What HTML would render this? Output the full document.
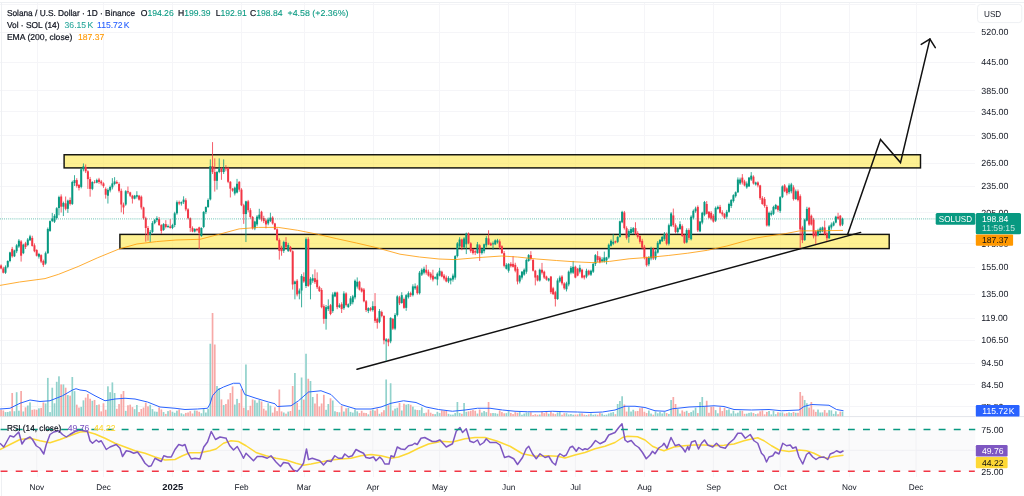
<!DOCTYPE html>
<html lang="en"><head><meta charset="utf-8"><title>SOLUSD chart</title>
<style>
html,body{margin:0;padding:0;background:#fff;width:1024px;height:496px;overflow:hidden}
svg{display:block;will-change:transform}
text{text-rendering:geometricPrecision}
</style></head><body>
<svg width="1024" height="496" viewBox="0 0 1024 496">
<rect width="1024" height="496" fill="#fff"/>
<g stroke="#f5f5f8" stroke-width="1" shape-rendering="crispEdges">
<line x1="37.5" y1="3" x2="37.5" y2="476.5"/>
<line x1="103.5" y1="3" x2="103.5" y2="476.5"/>
<line x1="172.5" y1="3" x2="172.5" y2="476.5"/>
<line x1="241.5" y1="3" x2="241.5" y2="476.5"/>
<line x1="304.5" y1="3" x2="304.5" y2="476.5"/>
<line x1="373.5" y1="3" x2="373.5" y2="476.5"/>
<line x1="439.5" y1="3" x2="439.5" y2="476.5"/>
<line x1="508.5" y1="3" x2="508.5" y2="476.5"/>
<line x1="575.5" y1="3" x2="575.5" y2="476.5"/>
<line x1="644.5" y1="3" x2="644.5" y2="476.5"/>
<line x1="713.5" y1="3" x2="713.5" y2="476.5"/>
<line x1="780.5" y1="3" x2="780.5" y2="476.5"/>
<line x1="849.5" y1="3" x2="849.5" y2="476.5"/>
<line x1="916.5" y1="3" x2="916.5" y2="476.5"/>
<line x1="0" y1="32.5" x2="974.8" y2="32.5"/>
<line x1="0" y1="62.5" x2="974.8" y2="62.5"/>
<line x1="0" y1="90.5" x2="974.8" y2="90.5"/>
<line x1="0" y1="111.5" x2="974.8" y2="111.5"/>
<line x1="0" y1="135.5" x2="974.8" y2="135.5"/>
<line x1="0" y1="163.5" x2="974.8" y2="163.5"/>
<line x1="0" y1="186.5" x2="974.8" y2="186.5"/>
<line x1="0" y1="212.5" x2="974.8" y2="212.5"/>
<line x1="0" y1="243.5" x2="974.8" y2="243.5"/>
<line x1="0" y1="267.5" x2="974.8" y2="267.5"/>
<line x1="0" y1="294.5" x2="974.8" y2="294.5"/>
<line x1="0" y1="318.5" x2="974.8" y2="318.5"/>
<line x1="0" y1="340.5" x2="974.8" y2="340.5"/>
<line x1="0" y1="363.5" x2="974.8" y2="363.5"/>
<line x1="0" y1="384.5" x2="974.8" y2="384.5"/>
<line x1="0" y1="406.5" x2="974.8" y2="406.5"/>
<line x1="0" y1="4.5" x2="975.5" y2="4.5"/>
<line x1="0" y1="450.3" x2="975.5" y2="450.3"/>
</g>
<g stroke="#eef0f3" stroke-width="1" shape-rendering="crispEdges">
<line x1="0" y1="2.5" x2="1024" y2="2.5"/>
<line x1="1.5" y1="3" x2="1.5" y2="496"/>
</g>
<line x1="0" y1="416.6" x2="1024" y2="416.6" stroke="#e3e5ea" stroke-width="1"/>
<rect x="0" y="429.5" width="975.5" height="41.5" fill="#fafafb"/>
<line x1="0" y1="450.3" x2="975.5" y2="450.3" stroke="#f1f1f4" stroke-width="1"/>
<line x1="36.71" y1="430" x2="36.71" y2="471" stroke="#f1f1f4" stroke-width="1"/>
<line x1="103.49" y1="430" x2="103.49" y2="471" stroke="#f1f1f4" stroke-width="1"/>
<line x1="172.5" y1="430" x2="172.5" y2="471" stroke="#f1f1f4" stroke-width="1"/>
<line x1="241.5" y1="430" x2="241.5" y2="471" stroke="#f1f1f4" stroke-width="1"/>
<line x1="303.83" y1="430" x2="303.83" y2="471" stroke="#f1f1f4" stroke-width="1"/>
<line x1="372.84" y1="430" x2="372.84" y2="471" stroke="#f1f1f4" stroke-width="1"/>
<line x1="439.62" y1="430" x2="439.62" y2="471" stroke="#f1f1f4" stroke-width="1"/>
<line x1="508.62" y1="430" x2="508.62" y2="471" stroke="#f1f1f4" stroke-width="1"/>
<line x1="575.4" y1="430" x2="575.4" y2="471" stroke="#f1f1f4" stroke-width="1"/>
<line x1="644.41" y1="430" x2="644.41" y2="471" stroke="#f1f1f4" stroke-width="1"/>
<line x1="713.41" y1="430" x2="713.41" y2="471" stroke="#f1f1f4" stroke-width="1"/>
<line x1="780.19" y1="430" x2="780.19" y2="471" stroke="#f1f1f4" stroke-width="1"/>
<line x1="849.2" y1="430" x2="849.2" y2="471" stroke="#f1f1f4" stroke-width="1"/>
<line x1="915.98" y1="430" x2="915.98" y2="471" stroke="#f1f1f4" stroke-width="1"/>
<rect x="64.1" y="154.75" width="856.4" height="13.15" fill="rgba(253,230,57,0.55)" stroke="#141410" stroke-width="1.45"/>
<rect x="119.9" y="234.4" width="769.3" height="14.2" fill="rgba(253,230,57,0.55)" stroke="#141410" stroke-width="1.45"/>
<line x1="357" y1="369.3" x2="860.6" y2="232.4" stroke="#111" stroke-width="1.5" stroke-linecap="round"/>
<polyline fill="none" stroke="#111" stroke-width="1.5" stroke-linejoin="miter" stroke-linecap="round" points="847.6,234.6 880.5,139.5 900.5,162.6 929.9,39.1"/>
<polyline fill="none" stroke="#111" stroke-width="1.5" stroke-linejoin="miter" stroke-linecap="round" points="921.2,44.4 929.9,39.1 935.3,47.6"/>
<g shape-rendering="auto">
<rect x="0.22" y="409.86" width="1.7" height="6.34" fill="#f7a9a7"/>
<rect x="2.45" y="410.43" width="1.7" height="5.77" fill="#f7a9a7"/>
<rect x="4.67" y="412.1" width="1.7" height="4.1" fill="#92d2cc"/>
<rect x="6.9" y="412" width="1.7" height="4.2" fill="#92d2cc"/>
<rect x="9.13" y="411.3" width="1.7" height="4.9" fill="#92d2cc"/>
<rect x="11.35" y="393" width="1.7" height="23.2" fill="#f7a9a7"/>
<rect x="13.58" y="411.25" width="1.7" height="4.95" fill="#92d2cc"/>
<rect x="15.8" y="392.2" width="1.7" height="24" fill="#92d2cc"/>
<rect x="18.03" y="410.7" width="1.7" height="5.5" fill="#92d2cc"/>
<rect x="20.26" y="391" width="1.7" height="25.2" fill="#f7a9a7"/>
<rect x="22.48" y="411.46" width="1.7" height="4.74" fill="#92d2cc"/>
<rect x="24.71" y="407.31" width="1.7" height="8.89" fill="#f7a9a7"/>
<rect x="26.93" y="405.51" width="1.7" height="10.69" fill="#92d2cc"/>
<rect x="29.16" y="402.37" width="1.7" height="13.83" fill="#92d2cc"/>
<rect x="31.39" y="409.84" width="1.7" height="6.36" fill="#f7a9a7"/>
<rect x="33.61" y="409.37" width="1.7" height="6.83" fill="#f7a9a7"/>
<rect x="35.84" y="409.76" width="1.7" height="6.44" fill="#f7a9a7"/>
<rect x="38.06" y="408.33" width="1.7" height="7.87" fill="#92d2cc"/>
<rect x="40.29" y="407.89" width="1.7" height="8.31" fill="#f7a9a7"/>
<rect x="42.52" y="402.48" width="1.7" height="13.72" fill="#f7a9a7"/>
<rect x="44.74" y="403.44" width="1.7" height="12.76" fill="#92d2cc"/>
<rect x="46.97" y="377.9" width="1.7" height="38.3" fill="#92d2cc"/>
<rect x="49.19" y="412.1" width="1.7" height="4.1" fill="#92d2cc"/>
<rect x="51.42" y="387.7" width="1.7" height="28.5" fill="#92d2cc"/>
<rect x="53.65" y="403.32" width="1.7" height="12.88" fill="#92d2cc"/>
<rect x="55.87" y="381.8" width="1.7" height="34.4" fill="#92d2cc"/>
<rect x="58.1" y="376.3" width="1.7" height="39.9" fill="#92d2cc"/>
<rect x="60.32" y="384.4" width="1.7" height="31.8" fill="#f7a9a7"/>
<rect x="62.55" y="384.4" width="1.7" height="31.8" fill="#92d2cc"/>
<rect x="64.78" y="387.7" width="1.7" height="28.5" fill="#f7a9a7"/>
<rect x="67" y="395.05" width="1.7" height="21.15" fill="#92d2cc"/>
<rect x="69.23" y="395.66" width="1.7" height="20.54" fill="#f7a9a7"/>
<rect x="71.45" y="377" width="1.7" height="39.2" fill="#92d2cc"/>
<rect x="73.68" y="391.12" width="1.7" height="25.08" fill="#92d2cc"/>
<rect x="75.91" y="404.65" width="1.7" height="11.55" fill="#f7a9a7"/>
<rect x="78.13" y="407.54" width="1.7" height="8.66" fill="#f7a9a7"/>
<rect x="80.36" y="406.87" width="1.7" height="9.33" fill="#92d2cc"/>
<rect x="82.58" y="400.33" width="1.7" height="15.87" fill="#92d2cc"/>
<rect x="84.81" y="397.66" width="1.7" height="18.54" fill="#f7a9a7"/>
<rect x="87.04" y="394.02" width="1.7" height="22.18" fill="#f7a9a7"/>
<rect x="89.26" y="398.71" width="1.7" height="17.49" fill="#f7a9a7"/>
<rect x="91.49" y="400.78" width="1.7" height="15.42" fill="#92d2cc"/>
<rect x="93.71" y="399.95" width="1.7" height="16.25" fill="#f7a9a7"/>
<rect x="95.94" y="405.05" width="1.7" height="11.15" fill="#92d2cc"/>
<rect x="98.17" y="404.47" width="1.7" height="11.73" fill="#f7a9a7"/>
<rect x="100.39" y="411.39" width="1.7" height="4.81" fill="#f7a9a7"/>
<rect x="102.62" y="403.27" width="1.7" height="12.93" fill="#f7a9a7"/>
<rect x="104.84" y="409.77" width="1.7" height="6.43" fill="#f7a9a7"/>
<rect x="107.07" y="386.3" width="1.7" height="29.9" fill="#92d2cc"/>
<rect x="109.3" y="392.2" width="1.7" height="24" fill="#92d2cc"/>
<rect x="111.52" y="382.4" width="1.7" height="33.8" fill="#92d2cc"/>
<rect x="113.75" y="393" width="1.7" height="23.2" fill="#92d2cc"/>
<rect x="115.97" y="408.81" width="1.7" height="7.39" fill="#f7a9a7"/>
<rect x="118.2" y="404.03" width="1.7" height="12.17" fill="#f7a9a7"/>
<rect x="120.43" y="394.2" width="1.7" height="22" fill="#f7a9a7"/>
<rect x="122.65" y="391" width="1.7" height="25.2" fill="#f7a9a7"/>
<rect x="124.88" y="410.84" width="1.7" height="5.36" fill="#92d2cc"/>
<rect x="127.1" y="405.26" width="1.7" height="10.94" fill="#f7a9a7"/>
<rect x="129.33" y="404.64" width="1.7" height="11.56" fill="#f7a9a7"/>
<rect x="131.56" y="407.13" width="1.7" height="9.07" fill="#f7a9a7"/>
<rect x="133.78" y="409.2" width="1.7" height="7" fill="#92d2cc"/>
<rect x="136.01" y="404.96" width="1.7" height="11.24" fill="#92d2cc"/>
<rect x="138.23" y="412.03" width="1.7" height="4.17" fill="#f7a9a7"/>
<rect x="140.46" y="408.97" width="1.7" height="7.23" fill="#f7a9a7"/>
<rect x="142.69" y="407.53" width="1.7" height="8.67" fill="#f7a9a7"/>
<rect x="144.91" y="402.73" width="1.7" height="13.47" fill="#f7a9a7"/>
<rect x="147.14" y="406.38" width="1.7" height="9.82" fill="#f7a9a7"/>
<rect x="149.36" y="404.81" width="1.7" height="11.39" fill="#92d2cc"/>
<rect x="151.59" y="409.08" width="1.7" height="7.12" fill="#92d2cc"/>
<rect x="153.82" y="411.5" width="1.7" height="4.7" fill="#92d2cc"/>
<rect x="156.04" y="411.78" width="1.7" height="4.42" fill="#92d2cc"/>
<rect x="158.27" y="407.39" width="1.7" height="8.81" fill="#f7a9a7"/>
<rect x="160.49" y="409.45" width="1.7" height="6.75" fill="#f7a9a7"/>
<rect x="162.72" y="412.06" width="1.7" height="4.14" fill="#92d2cc"/>
<rect x="164.95" y="413.89" width="1.7" height="2.31" fill="#f7a9a7"/>
<rect x="167.17" y="411.09" width="1.7" height="5.11" fill="#92d2cc"/>
<rect x="169.4" y="410.17" width="1.7" height="6.03" fill="#f7a9a7"/>
<rect x="171.62" y="411.76" width="1.7" height="4.44" fill="#92d2cc"/>
<rect x="173.85" y="412.77" width="1.7" height="3.43" fill="#92d2cc"/>
<rect x="176.08" y="410.67" width="1.7" height="5.53" fill="#92d2cc"/>
<rect x="178.3" y="409.53" width="1.7" height="6.67" fill="#f7a9a7"/>
<rect x="180.53" y="413.28" width="1.7" height="2.92" fill="#92d2cc"/>
<rect x="182.75" y="414.32" width="1.7" height="1.88" fill="#92d2cc"/>
<rect x="184.98" y="412.92" width="1.7" height="3.28" fill="#f7a9a7"/>
<rect x="187.21" y="412.49" width="1.7" height="3.71" fill="#f7a9a7"/>
<rect x="189.43" y="411.17" width="1.7" height="5.03" fill="#f7a9a7"/>
<rect x="191.66" y="413.48" width="1.7" height="2.72" fill="#f7a9a7"/>
<rect x="193.88" y="410.47" width="1.7" height="5.73" fill="#92d2cc"/>
<rect x="196.11" y="410.69" width="1.7" height="5.51" fill="#f7a9a7"/>
<rect x="198.34" y="411.78" width="1.7" height="4.42" fill="#f7a9a7"/>
<rect x="200.56" y="413.25" width="1.7" height="2.95" fill="#92d2cc"/>
<rect x="202.79" y="409.08" width="1.7" height="7.12" fill="#92d2cc"/>
<rect x="205.01" y="412.54" width="1.7" height="3.66" fill="#92d2cc"/>
<rect x="207.24" y="408.82" width="1.7" height="7.38" fill="#92d2cc"/>
<rect x="209.47" y="343.75" width="1.7" height="72.45" fill="#92d2cc"/>
<rect x="211.69" y="313" width="1.7" height="103.2" fill="#f7a9a7"/>
<rect x="213.92" y="344.5" width="1.7" height="71.7" fill="#f7a9a7"/>
<rect x="216.14" y="386" width="1.7" height="30.2" fill="#92d2cc"/>
<rect x="218.37" y="388" width="1.7" height="28.2" fill="#92d2cc"/>
<rect x="220.6" y="399.38" width="1.7" height="16.82" fill="#f7a9a7"/>
<rect x="222.82" y="405.05" width="1.7" height="11.15" fill="#92d2cc"/>
<rect x="225.05" y="403.96" width="1.7" height="12.24" fill="#f7a9a7"/>
<rect x="227.27" y="399.41" width="1.7" height="16.79" fill="#f7a9a7"/>
<rect x="229.5" y="393" width="1.7" height="23.2" fill="#f7a9a7"/>
<rect x="231.73" y="386.38" width="1.7" height="29.82" fill="#f7a9a7"/>
<rect x="233.95" y="404.59" width="1.7" height="11.61" fill="#92d2cc"/>
<rect x="236.18" y="398.89" width="1.7" height="17.31" fill="#92d2cc"/>
<rect x="238.4" y="403.05" width="1.7" height="13.15" fill="#f7a9a7"/>
<rect x="240.63" y="389.12" width="1.7" height="27.08" fill="#f7a9a7"/>
<rect x="242.86" y="407.8" width="1.7" height="8.4" fill="#f7a9a7"/>
<rect x="245.08" y="364.5" width="1.7" height="51.7" fill="#92d2cc"/>
<rect x="247.31" y="410.19" width="1.7" height="6.01" fill="#f7a9a7"/>
<rect x="249.53" y="405.79" width="1.7" height="10.41" fill="#f7a9a7"/>
<rect x="251.76" y="399.43" width="1.7" height="16.77" fill="#f7a9a7"/>
<rect x="253.99" y="400.27" width="1.7" height="15.93" fill="#92d2cc"/>
<rect x="256.21" y="402.75" width="1.7" height="13.45" fill="#92d2cc"/>
<rect x="258.44" y="400.11" width="1.7" height="16.09" fill="#92d2cc"/>
<rect x="260.66" y="401.5" width="1.7" height="14.7" fill="#f7a9a7"/>
<rect x="262.89" y="408.69" width="1.7" height="7.51" fill="#f7a9a7"/>
<rect x="265.12" y="410.52" width="1.7" height="5.68" fill="#f7a9a7"/>
<rect x="267.34" y="403.26" width="1.7" height="12.94" fill="#92d2cc"/>
<rect x="269.57" y="405.63" width="1.7" height="10.57" fill="#92d2cc"/>
<rect x="271.79" y="412.64" width="1.7" height="3.56" fill="#f7a9a7"/>
<rect x="274.02" y="407.27" width="1.7" height="8.93" fill="#f7a9a7"/>
<rect x="276.25" y="411.11" width="1.7" height="5.09" fill="#f7a9a7"/>
<rect x="278.47" y="389.5" width="1.7" height="26.7" fill="#f7a9a7"/>
<rect x="280.7" y="411.41" width="1.7" height="4.79" fill="#f7a9a7"/>
<rect x="282.92" y="412.49" width="1.7" height="3.71" fill="#92d2cc"/>
<rect x="285.15" y="413.64" width="1.7" height="2.56" fill="#f7a9a7"/>
<rect x="287.38" y="411.61" width="1.7" height="4.59" fill="#92d2cc"/>
<rect x="289.6" y="411.03" width="1.7" height="5.17" fill="#f7a9a7"/>
<rect x="291.83" y="386" width="1.7" height="30.2" fill="#f7a9a7"/>
<rect x="294.05" y="373" width="1.7" height="43.2" fill="#92d2cc"/>
<rect x="296.28" y="402.75" width="1.7" height="13.45" fill="#f7a9a7"/>
<rect x="298.51" y="409.8" width="1.7" height="6.4" fill="#92d2cc"/>
<rect x="300.73" y="377.5" width="1.7" height="38.7" fill="#92d2cc"/>
<rect x="302.96" y="399.62" width="1.7" height="16.58" fill="#f7a9a7"/>
<rect x="305.18" y="353.75" width="1.7" height="62.45" fill="#92d2cc"/>
<rect x="307.41" y="378.75" width="1.7" height="37.45" fill="#f7a9a7"/>
<rect x="309.64" y="381" width="1.7" height="35.2" fill="#92d2cc"/>
<rect x="311.86" y="397" width="1.7" height="19.2" fill="#92d2cc"/>
<rect x="314.09" y="403.51" width="1.7" height="12.69" fill="#f7a9a7"/>
<rect x="316.31" y="393.8" width="1.7" height="22.4" fill="#f7a9a7"/>
<rect x="318.54" y="406.46" width="1.7" height="9.74" fill="#f7a9a7"/>
<rect x="320.77" y="403.47" width="1.7" height="12.73" fill="#f7a9a7"/>
<rect x="322.99" y="394.79" width="1.7" height="21.41" fill="#f7a9a7"/>
<rect x="325.22" y="409.81" width="1.7" height="6.39" fill="#92d2cc"/>
<rect x="327.44" y="403.99" width="1.7" height="12.21" fill="#92d2cc"/>
<rect x="329.67" y="398.3" width="1.7" height="17.9" fill="#f7a9a7"/>
<rect x="331.9" y="400.5" width="1.7" height="15.7" fill="#92d2cc"/>
<rect x="334.12" y="411.26" width="1.7" height="4.94" fill="#92d2cc"/>
<rect x="336.35" y="411.95" width="1.7" height="4.25" fill="#f7a9a7"/>
<rect x="338.57" y="412.3" width="1.7" height="3.9" fill="#92d2cc"/>
<rect x="340.8" y="405.91" width="1.7" height="10.29" fill="#f7a9a7"/>
<rect x="343.03" y="411.54" width="1.7" height="4.66" fill="#92d2cc"/>
<rect x="345.25" y="408.34" width="1.7" height="7.86" fill="#f7a9a7"/>
<rect x="347.48" y="407.85" width="1.7" height="8.35" fill="#92d2cc"/>
<rect x="349.7" y="411.89" width="1.7" height="4.31" fill="#92d2cc"/>
<rect x="351.93" y="412.6" width="1.7" height="3.6" fill="#92d2cc"/>
<rect x="354.16" y="409.3" width="1.7" height="6.9" fill="#92d2cc"/>
<rect x="356.38" y="411.29" width="1.7" height="4.91" fill="#92d2cc"/>
<rect x="358.61" y="413.08" width="1.7" height="3.12" fill="#f7a9a7"/>
<rect x="360.83" y="410.79" width="1.7" height="5.41" fill="#f7a9a7"/>
<rect x="363.06" y="412.8" width="1.7" height="3.4" fill="#f7a9a7"/>
<rect x="365.29" y="413.01" width="1.7" height="3.19" fill="#f7a9a7"/>
<rect x="367.51" y="414.38" width="1.7" height="1.82" fill="#92d2cc"/>
<rect x="369.74" y="410.59" width="1.7" height="5.61" fill="#f7a9a7"/>
<rect x="371.96" y="409.46" width="1.7" height="6.74" fill="#92d2cc"/>
<rect x="374.19" y="410.64" width="1.7" height="5.56" fill="#f7a9a7"/>
<rect x="376.42" y="408.51" width="1.7" height="7.69" fill="#f7a9a7"/>
<rect x="378.64" y="413.82" width="1.7" height="2.38" fill="#92d2cc"/>
<rect x="380.87" y="412.28" width="1.7" height="3.92" fill="#f7a9a7"/>
<rect x="383.09" y="410.2" width="1.7" height="6" fill="#f7a9a7"/>
<rect x="385.32" y="379.5" width="1.7" height="36.7" fill="#92d2cc"/>
<rect x="387.55" y="405.21" width="1.7" height="10.99" fill="#f7a9a7"/>
<rect x="389.77" y="383.25" width="1.7" height="32.95" fill="#92d2cc"/>
<rect x="392" y="410.53" width="1.7" height="5.67" fill="#f7a9a7"/>
<rect x="394.22" y="408.62" width="1.7" height="7.58" fill="#92d2cc"/>
<rect x="396.45" y="407.74" width="1.7" height="8.46" fill="#92d2cc"/>
<rect x="398.68" y="403.02" width="1.7" height="13.18" fill="#f7a9a7"/>
<rect x="400.9" y="410.49" width="1.7" height="5.71" fill="#92d2cc"/>
<rect x="403.13" y="403.71" width="1.7" height="12.49" fill="#f7a9a7"/>
<rect x="405.35" y="404.64" width="1.7" height="11.56" fill="#92d2cc"/>
<rect x="407.58" y="404.01" width="1.7" height="12.19" fill="#92d2cc"/>
<rect x="409.81" y="404.77" width="1.7" height="11.43" fill="#f7a9a7"/>
<rect x="412.03" y="406.66" width="1.7" height="9.54" fill="#92d2cc"/>
<rect x="414.26" y="409.57" width="1.7" height="6.63" fill="#92d2cc"/>
<rect x="416.48" y="409.99" width="1.7" height="6.21" fill="#f7a9a7"/>
<rect x="418.71" y="410.11" width="1.7" height="6.09" fill="#92d2cc"/>
<rect x="420.94" y="407.35" width="1.7" height="8.85" fill="#92d2cc"/>
<rect x="423.16" y="413.12" width="1.7" height="3.08" fill="#92d2cc"/>
<rect x="425.39" y="412.65" width="1.7" height="3.55" fill="#f7a9a7"/>
<rect x="427.61" y="409.43" width="1.7" height="6.77" fill="#f7a9a7"/>
<rect x="429.84" y="412.7" width="1.7" height="3.5" fill="#f7a9a7"/>
<rect x="432.07" y="413.89" width="1.7" height="2.31" fill="#f7a9a7"/>
<rect x="434.29" y="414.18" width="1.7" height="2.02" fill="#92d2cc"/>
<rect x="436.52" y="411.79" width="1.7" height="4.41" fill="#92d2cc"/>
<rect x="438.74" y="413.06" width="1.7" height="3.14" fill="#92d2cc"/>
<rect x="440.97" y="410.32" width="1.7" height="5.88" fill="#f7a9a7"/>
<rect x="443.2" y="410.98" width="1.7" height="5.22" fill="#f7a9a7"/>
<rect x="445.42" y="410.81" width="1.7" height="5.39" fill="#f7a9a7"/>
<rect x="447.65" y="413.83" width="1.7" height="2.37" fill="#92d2cc"/>
<rect x="449.87" y="414.6" width="1.7" height="1.6" fill="#92d2cc"/>
<rect x="452.1" y="414.61" width="1.7" height="1.59" fill="#92d2cc"/>
<rect x="454.33" y="413.08" width="1.7" height="3.12" fill="#92d2cc"/>
<rect x="456.55" y="402" width="1.7" height="14.2" fill="#92d2cc"/>
<rect x="458.78" y="413.01" width="1.7" height="3.19" fill="#92d2cc"/>
<rect x="461" y="413.76" width="1.7" height="2.44" fill="#f7a9a7"/>
<rect x="463.23" y="403" width="1.7" height="13.2" fill="#92d2cc"/>
<rect x="465.46" y="411.83" width="1.7" height="4.37" fill="#92d2cc"/>
<rect x="467.68" y="411.37" width="1.7" height="4.83" fill="#f7a9a7"/>
<rect x="469.91" y="410.78" width="1.7" height="5.42" fill="#f7a9a7"/>
<rect x="472.13" y="410.03" width="1.7" height="6.17" fill="#f7a9a7"/>
<rect x="474.36" y="410.74" width="1.7" height="5.46" fill="#f7a9a7"/>
<rect x="476.59" y="413.54" width="1.7" height="2.66" fill="#92d2cc"/>
<rect x="478.81" y="409.53" width="1.7" height="6.67" fill="#f7a9a7"/>
<rect x="481.04" y="412.58" width="1.7" height="3.62" fill="#92d2cc"/>
<rect x="483.26" y="411.06" width="1.7" height="5.14" fill="#92d2cc"/>
<rect x="485.49" y="412.14" width="1.7" height="4.06" fill="#92d2cc"/>
<rect x="487.72" y="402" width="1.7" height="14.2" fill="#f7a9a7"/>
<rect x="489.94" y="413.15" width="1.7" height="3.05" fill="#f7a9a7"/>
<rect x="492.17" y="413.01" width="1.7" height="3.19" fill="#92d2cc"/>
<rect x="494.39" y="413.16" width="1.7" height="3.04" fill="#92d2cc"/>
<rect x="496.62" y="413.73" width="1.7" height="2.47" fill="#92d2cc"/>
<rect x="498.85" y="410.47" width="1.7" height="5.73" fill="#f7a9a7"/>
<rect x="501.07" y="412.09" width="1.7" height="4.11" fill="#f7a9a7"/>
<rect x="503.3" y="413.31" width="1.7" height="2.89" fill="#f7a9a7"/>
<rect x="505.52" y="413.14" width="1.7" height="3.06" fill="#92d2cc"/>
<rect x="507.75" y="410.92" width="1.7" height="5.28" fill="#92d2cc"/>
<rect x="509.98" y="412.95" width="1.7" height="3.25" fill="#f7a9a7"/>
<rect x="512.2" y="414.08" width="1.7" height="2.12" fill="#f7a9a7"/>
<rect x="514.43" y="412.17" width="1.7" height="4.03" fill="#f7a9a7"/>
<rect x="516.65" y="412.77" width="1.7" height="3.43" fill="#f7a9a7"/>
<rect x="518.88" y="411.71" width="1.7" height="4.49" fill="#92d2cc"/>
<rect x="521.11" y="414.7" width="1.7" height="1.5" fill="#92d2cc"/>
<rect x="523.33" y="413.53" width="1.7" height="2.67" fill="#92d2cc"/>
<rect x="525.56" y="412.5" width="1.7" height="3.7" fill="#92d2cc"/>
<rect x="527.78" y="412.47" width="1.7" height="3.73" fill="#92d2cc"/>
<rect x="530.01" y="412.24" width="1.7" height="3.96" fill="#f7a9a7"/>
<rect x="532.24" y="414.96" width="1.7" height="1.24" fill="#f7a9a7"/>
<rect x="534.46" y="414.17" width="1.7" height="2.03" fill="#f7a9a7"/>
<rect x="536.69" y="414.72" width="1.7" height="1.48" fill="#f7a9a7"/>
<rect x="538.91" y="414.5" width="1.7" height="1.7" fill="#92d2cc"/>
<rect x="541.14" y="411.98" width="1.7" height="4.22" fill="#f7a9a7"/>
<rect x="543.37" y="413.16" width="1.7" height="3.04" fill="#f7a9a7"/>
<rect x="545.59" y="411.96" width="1.7" height="4.24" fill="#f7a9a7"/>
<rect x="547.82" y="413.75" width="1.7" height="2.45" fill="#92d2cc"/>
<rect x="550.04" y="412.02" width="1.7" height="4.18" fill="#f7a9a7"/>
<rect x="552.27" y="413.42" width="1.7" height="2.78" fill="#f7a9a7"/>
<rect x="554.5" y="414.11" width="1.7" height="2.09" fill="#f7a9a7"/>
<rect x="556.72" y="412.43" width="1.7" height="3.77" fill="#92d2cc"/>
<rect x="558.95" y="411.95" width="1.7" height="4.25" fill="#92d2cc"/>
<rect x="561.17" y="414.72" width="1.7" height="1.48" fill="#f7a9a7"/>
<rect x="563.4" y="413.21" width="1.7" height="2.99" fill="#f7a9a7"/>
<rect x="565.63" y="413.18" width="1.7" height="3.02" fill="#92d2cc"/>
<rect x="567.85" y="414.44" width="1.7" height="1.76" fill="#92d2cc"/>
<rect x="570.08" y="414" width="1.7" height="2.2" fill="#92d2cc"/>
<rect x="572.3" y="414.7" width="1.7" height="1.5" fill="#92d2cc"/>
<rect x="574.53" y="414.53" width="1.7" height="1.67" fill="#f7a9a7"/>
<rect x="576.76" y="414.4" width="1.7" height="1.8" fill="#f7a9a7"/>
<rect x="578.98" y="413.45" width="1.7" height="2.75" fill="#92d2cc"/>
<rect x="581.21" y="413.36" width="1.7" height="2.84" fill="#f7a9a7"/>
<rect x="583.43" y="414.66" width="1.7" height="1.54" fill="#f7a9a7"/>
<rect x="585.66" y="415" width="1.7" height="1.2" fill="#92d2cc"/>
<rect x="587.89" y="414.4" width="1.7" height="1.8" fill="#f7a9a7"/>
<rect x="590.11" y="413.49" width="1.7" height="2.71" fill="#92d2cc"/>
<rect x="592.34" y="414.75" width="1.7" height="1.45" fill="#92d2cc"/>
<rect x="594.56" y="414.36" width="1.7" height="1.84" fill="#92d2cc"/>
<rect x="596.79" y="414.63" width="1.7" height="1.57" fill="#f7a9a7"/>
<rect x="599.02" y="412.9" width="1.7" height="3.3" fill="#f7a9a7"/>
<rect x="601.24" y="413.55" width="1.7" height="2.65" fill="#92d2cc"/>
<rect x="603.47" y="414.88" width="1.7" height="1.32" fill="#92d2cc"/>
<rect x="605.69" y="414.64" width="1.7" height="1.56" fill="#92d2cc"/>
<rect x="607.92" y="413.46" width="1.7" height="2.74" fill="#92d2cc"/>
<rect x="610.15" y="412.67" width="1.7" height="3.53" fill="#92d2cc"/>
<rect x="612.37" y="412.07" width="1.7" height="4.13" fill="#92d2cc"/>
<rect x="614.6" y="414.2" width="1.7" height="2" fill="#f7a9a7"/>
<rect x="616.82" y="404" width="1.7" height="12.2" fill="#92d2cc"/>
<rect x="619.05" y="401" width="1.7" height="15.2" fill="#92d2cc"/>
<rect x="621.28" y="396.25" width="1.7" height="19.95" fill="#92d2cc"/>
<rect x="623.5" y="404.5" width="1.7" height="11.7" fill="#f7a9a7"/>
<rect x="625.73" y="411.57" width="1.7" height="4.63" fill="#f7a9a7"/>
<rect x="627.95" y="407.07" width="1.7" height="9.13" fill="#92d2cc"/>
<rect x="630.18" y="411.54" width="1.7" height="4.66" fill="#92d2cc"/>
<rect x="632.41" y="409.77" width="1.7" height="6.43" fill="#92d2cc"/>
<rect x="634.63" y="411.25" width="1.7" height="4.95" fill="#f7a9a7"/>
<rect x="636.86" y="411" width="1.7" height="5.2" fill="#f7a9a7"/>
<rect x="639.08" y="408.22" width="1.7" height="7.98" fill="#f7a9a7"/>
<rect x="641.31" y="407.62" width="1.7" height="8.58" fill="#f7a9a7"/>
<rect x="643.54" y="411.77" width="1.7" height="4.43" fill="#f7a9a7"/>
<rect x="645.76" y="413.03" width="1.7" height="3.17" fill="#f7a9a7"/>
<rect x="647.99" y="410.54" width="1.7" height="5.66" fill="#92d2cc"/>
<rect x="650.21" y="413.56" width="1.7" height="2.64" fill="#92d2cc"/>
<rect x="652.44" y="414.67" width="1.7" height="1.53" fill="#f7a9a7"/>
<rect x="654.67" y="411.42" width="1.7" height="4.78" fill="#92d2cc"/>
<rect x="656.89" y="413.3" width="1.7" height="2.9" fill="#92d2cc"/>
<rect x="659.12" y="411.91" width="1.7" height="4.29" fill="#92d2cc"/>
<rect x="661.34" y="413.48" width="1.7" height="2.72" fill="#92d2cc"/>
<rect x="663.57" y="411.88" width="1.7" height="4.32" fill="#92d2cc"/>
<rect x="665.8" y="413.05" width="1.7" height="3.15" fill="#f7a9a7"/>
<rect x="668.02" y="413.93" width="1.7" height="2.27" fill="#92d2cc"/>
<rect x="670.25" y="400" width="1.7" height="16.2" fill="#92d2cc"/>
<rect x="672.47" y="397" width="1.7" height="19.2" fill="#f7a9a7"/>
<rect x="674.7" y="404" width="1.7" height="12.2" fill="#f7a9a7"/>
<rect x="676.93" y="409.13" width="1.7" height="7.07" fill="#92d2cc"/>
<rect x="679.15" y="413.64" width="1.7" height="2.56" fill="#92d2cc"/>
<rect x="681.38" y="410.41" width="1.7" height="5.79" fill="#f7a9a7"/>
<rect x="683.6" y="411.77" width="1.7" height="4.43" fill="#f7a9a7"/>
<rect x="685.83" y="410.81" width="1.7" height="5.39" fill="#92d2cc"/>
<rect x="688.06" y="412.96" width="1.7" height="3.24" fill="#f7a9a7"/>
<rect x="690.28" y="412.04" width="1.7" height="4.16" fill="#92d2cc"/>
<rect x="692.51" y="410.44" width="1.7" height="5.76" fill="#92d2cc"/>
<rect x="694.73" y="407.7" width="1.7" height="8.5" fill="#92d2cc"/>
<rect x="696.96" y="413.08" width="1.7" height="3.12" fill="#f7a9a7"/>
<rect x="699.19" y="402" width="1.7" height="14.2" fill="#92d2cc"/>
<rect x="701.41" y="397" width="1.7" height="19.2" fill="#92d2cc"/>
<rect x="703.64" y="407.04" width="1.7" height="9.16" fill="#92d2cc"/>
<rect x="705.86" y="400.75" width="1.7" height="15.45" fill="#f7a9a7"/>
<rect x="708.09" y="412.76" width="1.7" height="3.44" fill="#f7a9a7"/>
<rect x="710.32" y="406.84" width="1.7" height="9.36" fill="#f7a9a7"/>
<rect x="712.54" y="406.49" width="1.7" height="9.71" fill="#f7a9a7"/>
<rect x="714.77" y="410.13" width="1.7" height="6.07" fill="#92d2cc"/>
<rect x="716.99" y="413.28" width="1.7" height="2.92" fill="#92d2cc"/>
<rect x="719.22" y="407.22" width="1.7" height="8.98" fill="#f7a9a7"/>
<rect x="721.45" y="411.07" width="1.7" height="5.13" fill="#f7a9a7"/>
<rect x="723.67" y="407.77" width="1.7" height="8.43" fill="#f7a9a7"/>
<rect x="725.9" y="410.13" width="1.7" height="6.07" fill="#92d2cc"/>
<rect x="728.12" y="409.41" width="1.7" height="6.79" fill="#92d2cc"/>
<rect x="730.35" y="413.47" width="1.7" height="2.73" fill="#92d2cc"/>
<rect x="732.58" y="410.7" width="1.7" height="5.5" fill="#92d2cc"/>
<rect x="734.8" y="413.5" width="1.7" height="2.7" fill="#92d2cc"/>
<rect x="737.03" y="412.69" width="1.7" height="3.51" fill="#92d2cc"/>
<rect x="739.25" y="410.7" width="1.7" height="5.5" fill="#92d2cc"/>
<rect x="741.48" y="410.83" width="1.7" height="5.37" fill="#f7a9a7"/>
<rect x="743.71" y="413.78" width="1.7" height="2.42" fill="#f7a9a7"/>
<rect x="745.93" y="413.65" width="1.7" height="2.55" fill="#92d2cc"/>
<rect x="748.16" y="412.88" width="1.7" height="3.32" fill="#92d2cc"/>
<rect x="750.38" y="412.4" width="1.7" height="3.8" fill="#92d2cc"/>
<rect x="752.61" y="412.96" width="1.7" height="3.24" fill="#f7a9a7"/>
<rect x="754.84" y="414.08" width="1.7" height="2.12" fill="#92d2cc"/>
<rect x="757.06" y="413.5" width="1.7" height="2.7" fill="#f7a9a7"/>
<rect x="759.29" y="411.32" width="1.7" height="4.88" fill="#f7a9a7"/>
<rect x="761.51" y="410.48" width="1.7" height="5.72" fill="#f7a9a7"/>
<rect x="763.74" y="414.37" width="1.7" height="1.83" fill="#f7a9a7"/>
<rect x="765.97" y="411.93" width="1.7" height="4.27" fill="#f7a9a7"/>
<rect x="768.19" y="410.98" width="1.7" height="5.22" fill="#92d2cc"/>
<rect x="770.42" y="414.41" width="1.7" height="1.79" fill="#92d2cc"/>
<rect x="772.64" y="410.97" width="1.7" height="5.23" fill="#92d2cc"/>
<rect x="774.87" y="414.2" width="1.7" height="2" fill="#92d2cc"/>
<rect x="777.1" y="412.31" width="1.7" height="3.89" fill="#f7a9a7"/>
<rect x="779.32" y="412.65" width="1.7" height="3.55" fill="#92d2cc"/>
<rect x="781.55" y="412.42" width="1.7" height="3.78" fill="#92d2cc"/>
<rect x="783.77" y="413.61" width="1.7" height="2.59" fill="#f7a9a7"/>
<rect x="786" y="413.11" width="1.7" height="3.09" fill="#f7a9a7"/>
<rect x="788.23" y="412.4" width="1.7" height="3.8" fill="#92d2cc"/>
<rect x="790.45" y="412.98" width="1.7" height="3.22" fill="#92d2cc"/>
<rect x="792.68" y="411.96" width="1.7" height="4.24" fill="#f7a9a7"/>
<rect x="794.9" y="412.79" width="1.7" height="3.41" fill="#92d2cc"/>
<rect x="797.13" y="412.77" width="1.7" height="3.43" fill="#f7a9a7"/>
<rect x="799.36" y="392" width="1.7" height="24.2" fill="#f7a9a7"/>
<rect x="801.58" y="395.75" width="1.7" height="20.45" fill="#f7a9a7"/>
<rect x="803.81" y="400" width="1.7" height="16.2" fill="#92d2cc"/>
<rect x="806.03" y="403.25" width="1.7" height="12.95" fill="#92d2cc"/>
<rect x="808.26" y="407.52" width="1.7" height="8.68" fill="#f7a9a7"/>
<rect x="810.49" y="402" width="1.7" height="14.2" fill="#f7a9a7"/>
<rect x="812.71" y="409.57" width="1.7" height="6.63" fill="#f7a9a7"/>
<rect x="814.94" y="411.87" width="1.7" height="4.33" fill="#f7a9a7"/>
<rect x="817.16" y="409.56" width="1.7" height="6.64" fill="#92d2cc"/>
<rect x="819.39" y="412.52" width="1.7" height="3.68" fill="#92d2cc"/>
<rect x="821.62" y="412.38" width="1.7" height="3.82" fill="#92d2cc"/>
<rect x="823.84" y="410.06" width="1.7" height="6.14" fill="#f7a9a7"/>
<rect x="826.07" y="412.73" width="1.7" height="3.47" fill="#f7a9a7"/>
<rect x="828.29" y="410.12" width="1.7" height="6.08" fill="#92d2cc"/>
<rect x="830.52" y="410.37" width="1.7" height="5.83" fill="#92d2cc"/>
<rect x="832.75" y="413.88" width="1.7" height="2.32" fill="#92d2cc"/>
<rect x="834.97" y="411.27" width="1.7" height="4.93" fill="#92d2cc"/>
<rect x="837.2" y="414.22" width="1.7" height="1.98" fill="#f7a9a7"/>
<rect x="839.42" y="411.6" width="1.7" height="4.6" fill="#f7a9a7"/>
<rect x="841.65" y="411.73" width="1.7" height="4.47" fill="#92d2cc"/>
</g>
<polyline fill="none" stroke="#2962ff" stroke-width="1.0" stroke-linejoin="round" points="0,409 10,408.25 20,403.25 30,400 40,401.5 50,400.75 62.5,395.75 72.5,390 76,388.7 80,390 86,390.75 95,395.75 105,400.75 115,399 125,398.25 135,399 147.5,402 160,407 175,408.25 185,409.5 197.5,409 207.5,408.25 210,404 212.5,395.75 217.5,390 223.5,387 230,384.5 233.5,383.25 239.75,383.25 244.75,394.5 256,398.25 268.5,402 275,403.75 277.25,406.5 291,405.75 298.5,400.75 308.5,392 321,390.75 331,394.5 341,404.5 356,409 371,409 381,407 391,403.25 403.5,400.75 416,402.5 426,407 438.5,409.5 452.5,411.25 465,410 477.5,408.25 490,408.25 502.5,410 515,411.25 527.5,411.75 540,411.75 552.5,411.25 565,411.75 577.5,412 590,412.5 602.5,412 615,410 625,406.25 635,406.25 645,407.5 655,410.75 665,411.25 672.5,408.75 680,408 689,407 701.5,406.5 714,405.75 724,406.5 734,409.5 751.5,410 769,409.5 781.5,410.75 799,410 804,406.5 811.5,404.5 829,405.25 836.5,409.5 843.5,410.75"/>
<g>
<line x1="1.07" y1="264.38" x2="1.07" y2="269.27" stroke="#f23645" stroke-width="0.8"/>
<rect x="0.07" y="265.49" width="2" height="2.93" fill="#f23645"/>
<line x1="3.3" y1="266.78" x2="3.3" y2="273.44" stroke="#f23645" stroke-width="0.8"/>
<rect x="2.3" y="268.43" width="2" height="4.3" fill="#f23645"/>
<line x1="5.52" y1="265.4" x2="5.52" y2="273.91" stroke="#089981" stroke-width="0.8"/>
<rect x="4.52" y="266.86" width="2" height="5.87" fill="#089981"/>
<line x1="7.75" y1="260.3" x2="7.75" y2="268.27" stroke="#089981" stroke-width="0.8"/>
<rect x="6.75" y="261" width="2" height="5.87" fill="#089981"/>
<line x1="9.98" y1="251.73" x2="9.98" y2="262.29" stroke="#089981" stroke-width="0.8"/>
<rect x="8.98" y="252.39" width="2" height="8.6" fill="#089981"/>
<line x1="12.2" y1="246.92" x2="12.2" y2="257.67" stroke="#f23645" stroke-width="0.8"/>
<rect x="11.2" y="248.88" width="2" height="7.43" fill="#f23645"/>
<line x1="14.43" y1="249.73" x2="14.43" y2="257.05" stroke="#089981" stroke-width="0.8"/>
<rect x="13.43" y="250.44" width="2" height="5.87" fill="#089981"/>
<line x1="16.65" y1="244.08" x2="16.65" y2="253.14" stroke="#089981" stroke-width="0.8"/>
<rect x="15.65" y="245.36" width="2" height="5.87" fill="#089981"/>
<line x1="18.88" y1="239.1" x2="18.88" y2="247.9" stroke="#089981" stroke-width="0.8"/>
<rect x="17.88" y="240.66" width="2" height="5.87" fill="#089981"/>
<line x1="21.11" y1="240.08" x2="21.11" y2="261.58" stroke="#f23645" stroke-width="0.8"/>
<rect x="20.11" y="241.45" width="2" height="14.27" fill="#f23645"/>
<line x1="23.33" y1="243.78" x2="23.33" y2="254.13" stroke="#089981" stroke-width="0.8"/>
<rect x="22.33" y="244.57" width="2" height="8.6" fill="#089981"/>
<line x1="25.56" y1="241.8" x2="25.56" y2="249.04" stroke="#f23645" stroke-width="0.8"/>
<rect x="24.56" y="243.4" width="2" height="3.52" fill="#f23645"/>
<line x1="27.78" y1="237.97" x2="27.78" y2="246.2" stroke="#089981" stroke-width="0.8"/>
<rect x="26.78" y="239.49" width="2" height="5.47" fill="#089981"/>
<line x1="30.01" y1="234.8" x2="30.01" y2="241.06" stroke="#089981" stroke-width="0.8"/>
<rect x="29.01" y="236.36" width="2" height="3.91" fill="#089981"/>
<line x1="32.24" y1="235.77" x2="32.24" y2="246.62" stroke="#f23645" stroke-width="0.8"/>
<rect x="31.24" y="237.93" width="2" height="8.02" fill="#f23645"/>
<line x1="34.46" y1="243.38" x2="34.46" y2="252.29" stroke="#f23645" stroke-width="0.8"/>
<rect x="33.46" y="245.36" width="2" height="5.87" fill="#f23645"/>
<line x1="36.69" y1="249.22" x2="36.69" y2="256.51" stroke="#f23645" stroke-width="0.8"/>
<rect x="35.69" y="250.05" width="2" height="5.67" fill="#f23645"/>
<line x1="38.91" y1="252.87" x2="38.91" y2="258.6" stroke="#089981" stroke-width="0.8"/>
<rect x="37.91" y="253.96" width="2" height="2.74" fill="#089981"/>
<line x1="41.14" y1="254.24" x2="41.14" y2="263.11" stroke="#f23645" stroke-width="0.8"/>
<rect x="40.14" y="255.13" width="2" height="6.45" fill="#f23645"/>
<line x1="43.37" y1="259.63" x2="43.37" y2="266.86" stroke="#f23645" stroke-width="0.8"/>
<rect x="42.37" y="261" width="2" height="3.91" fill="#f23645"/>
<line x1="45.59" y1="251.55" x2="45.59" y2="264.73" stroke="#089981" stroke-width="0.8"/>
<rect x="44.59" y="253.18" width="2" height="10.36" fill="#089981"/>
<line x1="47.82" y1="227.48" x2="47.82" y2="253.9" stroke="#089981" stroke-width="0.8"/>
<rect x="46.82" y="228.95" width="2" height="24.24" fill="#089981"/>
<line x1="50.04" y1="220.44" x2="50.04" y2="231.84" stroke="#089981" stroke-width="0.8"/>
<rect x="49.04" y="221.13" width="2" height="9.78" fill="#089981"/>
<line x1="52.27" y1="212.92" x2="52.27" y2="222.11" stroke="#089981" stroke-width="0.8"/>
<rect x="51.27" y="218.4" width="2" height="2.54" fill="#089981"/>
<line x1="54.5" y1="214.17" x2="54.5" y2="223" stroke="#089981" stroke-width="0.8"/>
<rect x="53.5" y="215.86" width="2" height="5.87" fill="#089981"/>
<line x1="56.72" y1="207.13" x2="56.72" y2="219.54" stroke="#089981" stroke-width="0.8"/>
<rect x="55.72" y="208.23" width="2" height="9.78" fill="#089981"/>
<line x1="58.95" y1="195.72" x2="58.95" y2="215.27" stroke="#089981" stroke-width="0.8"/>
<rect x="57.95" y="197.09" width="2" height="10.95" fill="#089981"/>
<line x1="61.17" y1="194.35" x2="61.17" y2="212.53" stroke="#f23645" stroke-width="0.8"/>
<rect x="60.17" y="196.5" width="2" height="10.17" fill="#f23645"/>
<line x1="63.4" y1="201.58" x2="63.4" y2="216.05" stroke="#089981" stroke-width="0.8"/>
<rect x="62.4" y="202.95" width="2" height="3.71" fill="#089981"/>
<line x1="65.63" y1="196.5" x2="65.63" y2="210.38" stroke="#f23645" stroke-width="0.8"/>
<rect x="64.63" y="203.34" width="2" height="5.47" fill="#f23645"/>
<line x1="67.85" y1="199.63" x2="67.85" y2="212.92" stroke="#089981" stroke-width="0.8"/>
<rect x="66.85" y="200.61" width="2" height="8.21" fill="#089981"/>
<line x1="70.08" y1="197.48" x2="70.08" y2="205.49" stroke="#f23645" stroke-width="0.8"/>
<rect x="69.08" y="200.02" width="2" height="3.91" fill="#f23645"/>
<line x1="72.3" y1="180.71" x2="72.3" y2="205.01" stroke="#089981" stroke-width="0.8"/>
<rect x="71.3" y="182.03" width="2" height="21.9" fill="#089981"/>
<line x1="74.53" y1="175.19" x2="74.53" y2="185.94" stroke="#089981" stroke-width="0.8"/>
<rect x="73.53" y="180.08" width="2" height="2.93" fill="#089981"/>
<line x1="76.76" y1="178.21" x2="76.76" y2="187.66" stroke="#f23645" stroke-width="0.8"/>
<rect x="75.76" y="180.08" width="2" height="5.87" fill="#f23645"/>
<line x1="78.98" y1="183.98" x2="78.98" y2="190.44" stroke="#f23645" stroke-width="0.8"/>
<rect x="77.98" y="184.97" width="2" height="2.93" fill="#f23645"/>
<line x1="81.21" y1="167.81" x2="81.21" y2="188.36" stroke="#089981" stroke-width="0.8"/>
<rect x="80.21" y="169.33" width="2" height="17.6" fill="#089981"/>
<line x1="83.43" y1="163.46" x2="83.43" y2="171.33" stroke="#089981" stroke-width="0.8"/>
<rect x="82.43" y="166.39" width="2" height="2.93" fill="#089981"/>
<line x1="85.66" y1="164.44" x2="85.66" y2="173.05" stroke="#f23645" stroke-width="0.8"/>
<rect x="84.66" y="166.98" width="2" height="4.3" fill="#f23645"/>
<line x1="87.89" y1="170.22" x2="87.89" y2="188.88" stroke="#f23645" stroke-width="0.8"/>
<rect x="86.89" y="171.28" width="2" height="7.82" fill="#f23645"/>
<line x1="90.11" y1="176.93" x2="90.11" y2="196.7" stroke="#f23645" stroke-width="0.8"/>
<rect x="89.11" y="179.1" width="2" height="9.78" fill="#f23645"/>
<line x1="92.34" y1="181.24" x2="92.34" y2="190.14" stroke="#089981" stroke-width="0.8"/>
<rect x="91.34" y="182.03" width="2" height="6.84" fill="#089981"/>
<line x1="94.56" y1="180.22" x2="94.56" y2="183.48" stroke="#f23645" stroke-width="0.8"/>
<rect x="93.56" y="182.03" width="2" height="0.6" fill="#f23645"/>
<line x1="96.79" y1="178.7" x2="96.79" y2="183.28" stroke="#089981" stroke-width="0.8"/>
<rect x="95.79" y="180.08" width="2" height="2.54" fill="#089981"/>
<line x1="99.02" y1="177.82" x2="99.02" y2="183.86" stroke="#f23645" stroke-width="0.8"/>
<rect x="98.02" y="179.49" width="2" height="2.54" fill="#f23645"/>
<line x1="101.24" y1="179.93" x2="101.24" y2="185.4" stroke="#f23645" stroke-width="0.8"/>
<rect x="100.24" y="181.45" width="2" height="1.96" fill="#f23645"/>
<line x1="103.47" y1="182.3" x2="103.47" y2="187.85" stroke="#f23645" stroke-width="0.8"/>
<rect x="102.47" y="183.4" width="2" height="2.74" fill="#f23645"/>
<line x1="105.69" y1="187.32" x2="105.69" y2="198.65" stroke="#f23645" stroke-width="0.8"/>
<rect x="104.69" y="188.88" width="2" height="5.87" fill="#f23645"/>
<line x1="107.92" y1="188.33" x2="107.92" y2="203.54" stroke="#089981" stroke-width="0.8"/>
<rect x="106.92" y="189.85" width="2" height="5.87" fill="#089981"/>
<line x1="110.15" y1="185.59" x2="110.15" y2="192.38" stroke="#089981" stroke-width="0.8"/>
<rect x="109.15" y="186.92" width="2" height="3.52" fill="#089981"/>
<line x1="112.37" y1="178.12" x2="112.37" y2="189.42" stroke="#089981" stroke-width="0.8"/>
<rect x="111.37" y="183.4" width="2" height="3.91" fill="#089981"/>
<line x1="114.6" y1="177.15" x2="114.6" y2="185.35" stroke="#089981" stroke-width="0.8"/>
<rect x="113.6" y="181.45" width="2" height="2.54" fill="#089981"/>
<line x1="116.82" y1="180.37" x2="116.82" y2="184.1" stroke="#f23645" stroke-width="0.8"/>
<rect x="115.82" y="182.03" width="2" height="1.37" fill="#f23645"/>
<line x1="119.05" y1="182.27" x2="119.05" y2="192.47" stroke="#f23645" stroke-width="0.8"/>
<rect x="118.05" y="183.99" width="2" height="6.84" fill="#f23645"/>
<line x1="121.28" y1="188.64" x2="121.28" y2="212.34" stroke="#f23645" stroke-width="0.8"/>
<rect x="120.28" y="190.83" width="2" height="13.69" fill="#f23645"/>
<line x1="123.5" y1="202.6" x2="123.5" y2="214.29" stroke="#f23645" stroke-width="0.8"/>
<rect x="122.5" y="204.52" width="2" height="2.93" fill="#f23645"/>
<line x1="125.73" y1="190.17" x2="125.73" y2="205.73" stroke="#089981" stroke-width="0.8"/>
<rect x="124.73" y="191.22" width="2" height="13.29" fill="#089981"/>
<line x1="127.95" y1="186.53" x2="127.95" y2="194.06" stroke="#f23645" stroke-width="0.8"/>
<rect x="126.95" y="191.22" width="2" height="1.17" fill="#f23645"/>
<line x1="130.18" y1="191.76" x2="130.18" y2="197.06" stroke="#f23645" stroke-width="0.8"/>
<rect x="129.18" y="192.39" width="2" height="3.32" fill="#f23645"/>
<line x1="132.41" y1="194.85" x2="132.41" y2="203.54" stroke="#f23645" stroke-width="0.8"/>
<rect x="131.41" y="195.72" width="2" height="2.93" fill="#f23645"/>
<line x1="134.63" y1="194.93" x2="134.63" y2="199.35" stroke="#089981" stroke-width="0.8"/>
<rect x="133.63" y="195.72" width="2" height="2.93" fill="#089981"/>
<line x1="136.86" y1="191.22" x2="136.86" y2="198.53" stroke="#089981" stroke-width="0.8"/>
<rect x="135.86" y="195.13" width="2" height="1.56" fill="#089981"/>
<line x1="139.08" y1="194.91" x2="139.08" y2="200.62" stroke="#f23645" stroke-width="0.8"/>
<rect x="138.08" y="195.72" width="2" height="3.91" fill="#f23645"/>
<line x1="141.31" y1="195.47" x2="141.31" y2="209.44" stroke="#f23645" stroke-width="0.8"/>
<rect x="140.31" y="196.7" width="2" height="10.75" fill="#f23645"/>
<line x1="143.54" y1="206.72" x2="143.54" y2="219.52" stroke="#f23645" stroke-width="0.8"/>
<rect x="142.54" y="207.45" width="2" height="10.75" fill="#f23645"/>
<line x1="145.76" y1="216.72" x2="145.76" y2="241.66" stroke="#f23645" stroke-width="0.8"/>
<rect x="144.76" y="218.2" width="2" height="9.78" fill="#f23645"/>
<line x1="147.99" y1="225.96" x2="147.99" y2="240.68" stroke="#f23645" stroke-width="0.8"/>
<rect x="146.99" y="227.98" width="2" height="6.84" fill="#f23645"/>
<line x1="150.21" y1="229.98" x2="150.21" y2="242.05" stroke="#089981" stroke-width="0.8"/>
<rect x="149.21" y="231.89" width="2" height="2.93" fill="#089981"/>
<line x1="152.44" y1="221.11" x2="152.44" y2="232.93" stroke="#089981" stroke-width="0.8"/>
<rect x="151.44" y="223.09" width="2" height="8.8" fill="#089981"/>
<line x1="154.67" y1="218.89" x2="154.67" y2="224.26" stroke="#089981" stroke-width="0.8"/>
<rect x="153.67" y="220.16" width="2" height="2.93" fill="#089981"/>
<line x1="156.89" y1="216.25" x2="156.89" y2="222.17" stroke="#089981" stroke-width="0.8"/>
<rect x="155.89" y="218.2" width="2" height="1.96" fill="#089981"/>
<line x1="159.12" y1="217.05" x2="159.12" y2="225.89" stroke="#f23645" stroke-width="0.8"/>
<rect x="158.12" y="219.18" width="2" height="5.87" fill="#f23645"/>
<line x1="161.34" y1="224.16" x2="161.34" y2="233.84" stroke="#f23645" stroke-width="0.8"/>
<rect x="160.34" y="225.04" width="2" height="5.87" fill="#f23645"/>
<line x1="163.57" y1="223.1" x2="163.57" y2="230.9" stroke="#089981" stroke-width="0.8"/>
<rect x="162.57" y="224.07" width="2" height="5.87" fill="#089981"/>
<line x1="165.8" y1="220.16" x2="165.8" y2="228.37" stroke="#f23645" stroke-width="0.8"/>
<rect x="164.8" y="224.07" width="2" height="2.93" fill="#f23645"/>
<line x1="168.02" y1="224.48" x2="168.02" y2="228.02" stroke="#089981" stroke-width="0.8"/>
<rect x="167.02" y="226.02" width="2" height="0.98" fill="#089981"/>
<line x1="170.25" y1="219.18" x2="170.25" y2="228.58" stroke="#f23645" stroke-width="0.8"/>
<rect x="169.25" y="226.41" width="2" height="1.56" fill="#f23645"/>
<line x1="172.47" y1="223.77" x2="172.47" y2="229.17" stroke="#089981" stroke-width="0.8"/>
<rect x="171.47" y="225.04" width="2" height="2.93" fill="#089981"/>
<line x1="174.7" y1="211.81" x2="174.7" y2="227.17" stroke="#089981" stroke-width="0.8"/>
<rect x="173.7" y="213.31" width="2" height="11.73" fill="#089981"/>
<line x1="176.93" y1="200.47" x2="176.93" y2="214.74" stroke="#089981" stroke-width="0.8"/>
<rect x="175.93" y="202.17" width="2" height="11.14" fill="#089981"/>
<line x1="179.15" y1="200.58" x2="179.15" y2="205.22" stroke="#f23645" stroke-width="0.8"/>
<rect x="178.15" y="202.17" width="2" height="1.37" fill="#f23645"/>
<line x1="181.38" y1="201.48" x2="181.38" y2="205.58" stroke="#089981" stroke-width="0.8"/>
<rect x="180.38" y="202.17" width="2" height="1.37" fill="#089981"/>
<line x1="183.6" y1="196.3" x2="183.6" y2="204.02" stroke="#089981" stroke-width="0.8"/>
<rect x="182.6" y="199.63" width="2" height="2.54" fill="#089981"/>
<line x1="185.83" y1="198.22" x2="185.83" y2="211.28" stroke="#f23645" stroke-width="0.8"/>
<rect x="184.83" y="200.22" width="2" height="9.19" fill="#f23645"/>
<line x1="188.06" y1="208.18" x2="188.06" y2="219.44" stroke="#f23645" stroke-width="0.8"/>
<rect x="187.06" y="209.4" width="2" height="8.8" fill="#f23645"/>
<line x1="190.28" y1="217.44" x2="190.28" y2="231.89" stroke="#f23645" stroke-width="0.8"/>
<rect x="189.28" y="218.2" width="2" height="9.78" fill="#f23645"/>
<line x1="192.51" y1="226.36" x2="192.51" y2="232.2" stroke="#f23645" stroke-width="0.8"/>
<rect x="191.51" y="227.98" width="2" height="3.52" fill="#f23645"/>
<line x1="194.73" y1="228.25" x2="194.73" y2="232.43" stroke="#089981" stroke-width="0.8"/>
<rect x="193.73" y="228.95" width="2" height="2.54" fill="#089981"/>
<line x1="196.96" y1="228.09" x2="196.96" y2="231.47" stroke="#f23645" stroke-width="0.8"/>
<rect x="195.96" y="228.95" width="2" height="1.37" fill="#f23645"/>
<line x1="199.19" y1="226.71" x2="199.19" y2="248.9" stroke="#f23645" stroke-width="0.8"/>
<rect x="198.19" y="227.39" width="2" height="5.47" fill="#f23645"/>
<line x1="201.41" y1="227.35" x2="201.41" y2="236.8" stroke="#089981" stroke-width="0.8"/>
<rect x="200.41" y="227.95" width="2" height="8.02" fill="#089981"/>
<line x1="203.64" y1="211.15" x2="203.64" y2="228.15" stroke="#089981" stroke-width="0.8"/>
<rect x="202.64" y="211.92" width="2" height="15.05" fill="#089981"/>
<line x1="205.86" y1="206.39" x2="205.86" y2="214.11" stroke="#089981" stroke-width="0.8"/>
<rect x="204.86" y="207.03" width="2" height="5.08" fill="#089981"/>
<line x1="208.09" y1="198.41" x2="208.09" y2="207.87" stroke="#089981" stroke-width="0.8"/>
<rect x="207.09" y="199.99" width="2" height="7.04" fill="#089981"/>
<line x1="210.32" y1="159.33" x2="210.32" y2="200.41" stroke="#089981" stroke-width="0.8"/>
<rect x="209.32" y="166.17" width="2" height="33.24" fill="#089981"/>
<line x1="212.54" y1="142.12" x2="212.54" y2="173.99" stroke="#f23645" stroke-width="0.8"/>
<rect x="211.54" y="166.17" width="2" height="5.87" fill="#f23645"/>
<line x1="214.77" y1="158.35" x2="214.77" y2="191.58" stroke="#f23645" stroke-width="0.8"/>
<rect x="213.77" y="172.03" width="2" height="8.8" fill="#f23645"/>
<line x1="216.99" y1="170.88" x2="216.99" y2="189.63" stroke="#089981" stroke-width="0.8"/>
<rect x="215.99" y="172.03" width="2" height="8.8" fill="#089981"/>
<line x1="219.22" y1="158.35" x2="219.22" y2="173.22" stroke="#089981" stroke-width="0.8"/>
<rect x="218.22" y="168.12" width="2" height="3.91" fill="#089981"/>
<line x1="221.45" y1="167.33" x2="221.45" y2="179.85" stroke="#f23645" stroke-width="0.8"/>
<rect x="220.45" y="168.12" width="2" height="3.91" fill="#f23645"/>
<line x1="223.67" y1="159.33" x2="223.67" y2="173.99" stroke="#089981" stroke-width="0.8"/>
<rect x="222.67" y="168.12" width="2" height="3.91" fill="#089981"/>
<line x1="225.9" y1="165.19" x2="225.9" y2="171.29" stroke="#f23645" stroke-width="0.8"/>
<rect x="224.9" y="168.12" width="2" height="0.98" fill="#f23645"/>
<line x1="228.12" y1="166.78" x2="228.12" y2="183.18" stroke="#f23645" stroke-width="0.8"/>
<rect x="227.12" y="168.12" width="2" height="13.69" fill="#f23645"/>
<line x1="230.35" y1="181.07" x2="230.35" y2="197.45" stroke="#f23645" stroke-width="0.8"/>
<rect x="229.35" y="181.81" width="2" height="6.84" fill="#f23645"/>
<line x1="232.58" y1="187.89" x2="232.58" y2="191.75" stroke="#f23645" stroke-width="0.8"/>
<rect x="231.58" y="188.65" width="2" height="1.96" fill="#f23645"/>
<line x1="234.8" y1="186.65" x2="234.8" y2="195.46" stroke="#089981" stroke-width="0.8"/>
<rect x="233.8" y="187.67" width="2" height="5.87" fill="#089981"/>
<line x1="237.03" y1="178.88" x2="237.03" y2="193.42" stroke="#089981" stroke-width="0.8"/>
<rect x="236.03" y="183.76" width="2" height="8.8" fill="#089981"/>
<line x1="239.25" y1="181.17" x2="239.25" y2="191.75" stroke="#f23645" stroke-width="0.8"/>
<rect x="238.25" y="181.81" width="2" height="7.82" fill="#f23645"/>
<line x1="241.48" y1="188.18" x2="241.48" y2="206.1" stroke="#f23645" stroke-width="0.8"/>
<rect x="240.48" y="189.63" width="2" height="15.64" fill="#f23645"/>
<line x1="243.71" y1="203.8" x2="243.71" y2="223.84" stroke="#f23645" stroke-width="0.8"/>
<rect x="242.71" y="205.27" width="2" height="8.8" fill="#f23645"/>
<line x1="245.93" y1="200.72" x2="245.93" y2="242.02" stroke="#089981" stroke-width="0.8"/>
<rect x="244.93" y="201.36" width="2" height="12.71" fill="#089981"/>
<line x1="248.16" y1="199.91" x2="248.16" y2="212.32" stroke="#f23645" stroke-width="0.8"/>
<rect x="247.16" y="201.36" width="2" height="8.8" fill="#f23645"/>
<line x1="250.38" y1="208.18" x2="250.38" y2="218.72" stroke="#f23645" stroke-width="0.8"/>
<rect x="249.38" y="210.17" width="2" height="6.84" fill="#f23645"/>
<line x1="252.61" y1="215.99" x2="252.61" y2="229.53" stroke="#f23645" stroke-width="0.8"/>
<rect x="251.61" y="217.01" width="2" height="11.34" fill="#f23645"/>
<line x1="254.84" y1="220.64" x2="254.84" y2="230.18" stroke="#089981" stroke-width="0.8"/>
<rect x="253.84" y="221.51" width="2" height="6.84" fill="#089981"/>
<line x1="257.06" y1="215.17" x2="257.06" y2="226.28" stroke="#089981" stroke-width="0.8"/>
<rect x="256.06" y="216.62" width="2" height="7.82" fill="#089981"/>
<line x1="259.29" y1="208.8" x2="259.29" y2="219.7" stroke="#089981" stroke-width="0.8"/>
<rect x="258.29" y="214.66" width="2" height="3.91" fill="#089981"/>
<line x1="261.51" y1="210.77" x2="261.51" y2="221.45" stroke="#f23645" stroke-width="0.8"/>
<rect x="260.51" y="211.73" width="2" height="7.82" fill="#f23645"/>
<line x1="263.74" y1="215.81" x2="263.74" y2="223.08" stroke="#f23645" stroke-width="0.8"/>
<rect x="262.74" y="217.99" width="2" height="3.13" fill="#f23645"/>
<line x1="265.97" y1="218.64" x2="265.97" y2="228.35" stroke="#f23645" stroke-width="0.8"/>
<rect x="264.97" y="220.53" width="2" height="3.91" fill="#f23645"/>
<line x1="268.19" y1="217.64" x2="268.19" y2="225.24" stroke="#089981" stroke-width="0.8"/>
<rect x="267.19" y="219.55" width="2" height="3.91" fill="#089981"/>
<line x1="270.42" y1="212.71" x2="270.42" y2="222.08" stroke="#089981" stroke-width="0.8"/>
<rect x="269.42" y="217.6" width="2" height="3.52" fill="#089981"/>
<line x1="272.64" y1="216.17" x2="272.64" y2="224.63" stroke="#f23645" stroke-width="0.8"/>
<rect x="271.64" y="217.6" width="2" height="5.87" fill="#f23645"/>
<line x1="274.87" y1="222.81" x2="274.87" y2="229.97" stroke="#f23645" stroke-width="0.8"/>
<rect x="273.87" y="223.46" width="2" height="5.87" fill="#f23645"/>
<line x1="277.1" y1="228.28" x2="277.1" y2="241.09" stroke="#f23645" stroke-width="0.8"/>
<rect x="276.1" y="229.33" width="2" height="10.75" fill="#f23645"/>
<line x1="279.32" y1="238.37" x2="279.32" y2="259.63" stroke="#f23645" stroke-width="0.8"/>
<rect x="278.32" y="240.08" width="2" height="10.75" fill="#f23645"/>
<line x1="281.55" y1="245.77" x2="281.55" y2="255.72" stroke="#f23645" stroke-width="0.8"/>
<rect x="280.55" y="247.9" width="2" height="3.32" fill="#f23645"/>
<line x1="283.77" y1="240.72" x2="283.77" y2="252.93" stroke="#089981" stroke-width="0.8"/>
<rect x="282.77" y="242.03" width="2" height="8.8" fill="#089981"/>
<line x1="286" y1="237.15" x2="286" y2="249.1" stroke="#f23645" stroke-width="0.8"/>
<rect x="285" y="242.03" width="2" height="4.89" fill="#f23645"/>
<line x1="288.23" y1="242.84" x2="288.23" y2="252.01" stroke="#089981" stroke-width="0.8"/>
<rect x="287.23" y="244.97" width="2" height="5.87" fill="#089981"/>
<line x1="290.45" y1="245.97" x2="290.45" y2="252.18" stroke="#f23645" stroke-width="0.8"/>
<rect x="289.45" y="246.92" width="2" height="4.3" fill="#f23645"/>
<line x1="292.68" y1="250.32" x2="292.68" y2="289.55" stroke="#f23645" stroke-width="0.8"/>
<rect x="291.68" y="251.23" width="2" height="33.24" fill="#f23645"/>
<line x1="294.9" y1="280.61" x2="294.9" y2="299.33" stroke="#089981" stroke-width="0.8"/>
<rect x="293.9" y="281.53" width="2" height="2.54" fill="#089981"/>
<line x1="297.13" y1="279.15" x2="297.13" y2="296.39" stroke="#f23645" stroke-width="0.8"/>
<rect x="296.13" y="280.75" width="2" height="13.69" fill="#f23645"/>
<line x1="299.36" y1="288.49" x2="299.36" y2="299.33" stroke="#089981" stroke-width="0.8"/>
<rect x="298.36" y="290.53" width="2" height="3.13" fill="#089981"/>
<line x1="301.58" y1="274.12" x2="301.58" y2="307.34" stroke="#089981" stroke-width="0.8"/>
<rect x="300.58" y="276.06" width="2" height="14.47" fill="#089981"/>
<line x1="303.81" y1="272.35" x2="303.81" y2="282.9" stroke="#f23645" stroke-width="0.8"/>
<rect x="302.81" y="276.84" width="2" height="4.69" fill="#f23645"/>
<line x1="306.03" y1="237.47" x2="306.03" y2="287.99" stroke="#089981" stroke-width="0.8"/>
<rect x="305.03" y="239.11" width="2" height="46.92" fill="#089981"/>
<line x1="308.26" y1="237.23" x2="308.26" y2="286.77" stroke="#f23645" stroke-width="0.8"/>
<rect x="307.26" y="239.11" width="2" height="46.92" fill="#f23645"/>
<line x1="310.49" y1="277.14" x2="310.49" y2="299.33" stroke="#089981" stroke-width="0.8"/>
<rect x="309.49" y="278.8" width="2" height="5.87" fill="#089981"/>
<line x1="312.71" y1="274.3" x2="312.71" y2="282.81" stroke="#089981" stroke-width="0.8"/>
<rect x="311.71" y="278.21" width="2" height="2.54" fill="#089981"/>
<line x1="314.94" y1="269.41" x2="314.94" y2="283.97" stroke="#f23645" stroke-width="0.8"/>
<rect x="313.94" y="278.21" width="2" height="3.91" fill="#f23645"/>
<line x1="317.16" y1="272.35" x2="317.16" y2="289" stroke="#f23645" stroke-width="0.8"/>
<rect x="316.16" y="279.78" width="2" height="7.43" fill="#f23645"/>
<line x1="319.39" y1="285.84" x2="319.39" y2="292" stroke="#f23645" stroke-width="0.8"/>
<rect x="318.39" y="287.2" width="2" height="3.91" fill="#f23645"/>
<line x1="321.62" y1="288.08" x2="321.62" y2="308.28" stroke="#f23645" stroke-width="0.8"/>
<rect x="320.62" y="289.94" width="2" height="17.2" fill="#f23645"/>
<line x1="323.84" y1="304.29" x2="323.84" y2="323.76" stroke="#f23645" stroke-width="0.8"/>
<rect x="322.84" y="306.17" width="2" height="12.71" fill="#f23645"/>
<line x1="326.07" y1="304.99" x2="326.07" y2="329.63" stroke="#089981" stroke-width="0.8"/>
<rect x="325.07" y="307.15" width="2" height="11.73" fill="#089981"/>
<line x1="328.29" y1="299.33" x2="328.29" y2="311.06" stroke="#089981" stroke-width="0.8"/>
<rect x="327.29" y="306.17" width="2" height="2.93" fill="#089981"/>
<line x1="330.52" y1="303.96" x2="330.52" y2="315.23" stroke="#f23645" stroke-width="0.8"/>
<rect x="329.52" y="305.19" width="2" height="8.8" fill="#f23645"/>
<line x1="332.75" y1="292.32" x2="332.75" y2="312.82" stroke="#089981" stroke-width="0.8"/>
<rect x="331.75" y="294.44" width="2" height="16.62" fill="#089981"/>
<line x1="334.97" y1="291.61" x2="334.97" y2="297.2" stroke="#089981" stroke-width="0.8"/>
<rect x="333.97" y="292.48" width="2" height="3.91" fill="#089981"/>
<line x1="337.2" y1="291.64" x2="337.2" y2="309.19" stroke="#f23645" stroke-width="0.8"/>
<rect x="336.2" y="292.48" width="2" height="14.66" fill="#f23645"/>
<line x1="339.42" y1="303.3" x2="339.42" y2="307.98" stroke="#089981" stroke-width="0.8"/>
<rect x="338.42" y="305.19" width="2" height="1.96" fill="#089981"/>
<line x1="341.65" y1="302.29" x2="341.65" y2="313.01" stroke="#f23645" stroke-width="0.8"/>
<rect x="340.65" y="304.21" width="2" height="4.89" fill="#f23645"/>
<line x1="343.88" y1="291.29" x2="343.88" y2="309.77" stroke="#089981" stroke-width="0.8"/>
<rect x="342.88" y="293.46" width="2" height="14.66" fill="#089981"/>
<line x1="346.1" y1="292.3" x2="346.1" y2="306.67" stroke="#f23645" stroke-width="0.8"/>
<rect x="345.1" y="293.46" width="2" height="11.73" fill="#f23645"/>
<line x1="348.33" y1="303.4" x2="348.33" y2="307.77" stroke="#089981" stroke-width="0.8"/>
<rect x="347.33" y="304.21" width="2" height="2.93" fill="#089981"/>
<line x1="350.55" y1="296.19" x2="350.55" y2="305.85" stroke="#089981" stroke-width="0.8"/>
<rect x="349.55" y="298.35" width="2" height="5.87" fill="#089981"/>
<line x1="352.78" y1="294.95" x2="352.78" y2="304.35" stroke="#089981" stroke-width="0.8"/>
<rect x="351.78" y="296.39" width="2" height="5.87" fill="#089981"/>
<line x1="355.01" y1="279.46" x2="355.01" y2="299.37" stroke="#089981" stroke-width="0.8"/>
<rect x="354.01" y="280.75" width="2" height="16.62" fill="#089981"/>
<line x1="357.23" y1="277.43" x2="357.23" y2="288.54" stroke="#089981" stroke-width="0.8"/>
<rect x="356.23" y="281.73" width="2" height="4.89" fill="#089981"/>
<line x1="359.46" y1="280.79" x2="359.46" y2="290.55" stroke="#f23645" stroke-width="0.8"/>
<rect x="358.46" y="281.73" width="2" height="7.82" fill="#f23645"/>
<line x1="361.68" y1="287.5" x2="361.68" y2="292.49" stroke="#f23645" stroke-width="0.8"/>
<rect x="360.68" y="288.57" width="2" height="2.93" fill="#f23645"/>
<line x1="363.91" y1="288.01" x2="363.91" y2="302.3" stroke="#f23645" stroke-width="0.8"/>
<rect x="362.91" y="289.55" width="2" height="11.73" fill="#f23645"/>
<line x1="366.14" y1="300.01" x2="366.14" y2="312.03" stroke="#f23645" stroke-width="0.8"/>
<rect x="365.14" y="301.28" width="2" height="8.8" fill="#f23645"/>
<line x1="368.36" y1="307.31" x2="368.36" y2="313.11" stroke="#089981" stroke-width="0.8"/>
<rect x="367.36" y="308.12" width="2" height="2.93" fill="#089981"/>
<line x1="370.59" y1="306.96" x2="370.59" y2="311.41" stroke="#f23645" stroke-width="0.8"/>
<rect x="369.59" y="308.12" width="2" height="1.96" fill="#f23645"/>
<line x1="372.81" y1="301.28" x2="372.81" y2="311.61" stroke="#089981" stroke-width="0.8"/>
<rect x="371.81" y="306.17" width="2" height="3.91" fill="#089981"/>
<line x1="375.04" y1="293.07" x2="375.04" y2="322.88" stroke="#f23645" stroke-width="0.8"/>
<rect x="374.04" y="306.17" width="2" height="14.66" fill="#f23645"/>
<line x1="377.27" y1="317.6" x2="377.27" y2="328.65" stroke="#f23645" stroke-width="0.8"/>
<rect x="376.27" y="318.88" width="2" height="3.91" fill="#f23645"/>
<line x1="379.49" y1="308.99" x2="379.49" y2="323.21" stroke="#089981" stroke-width="0.8"/>
<rect x="378.49" y="311.06" width="2" height="10.75" fill="#089981"/>
<line x1="381.72" y1="310.58" x2="381.72" y2="317.38" stroke="#f23645" stroke-width="0.8"/>
<rect x="380.72" y="312.03" width="2" height="3.91" fill="#f23645"/>
<line x1="383.94" y1="315.31" x2="383.94" y2="344.29" stroke="#f23645" stroke-width="0.8"/>
<rect x="382.94" y="315.94" width="2" height="24.44" fill="#f23645"/>
<line x1="386.17" y1="338.1" x2="386.17" y2="360.91" stroke="#089981" stroke-width="0.8"/>
<rect x="385.17" y="339.4" width="2" height="1.96" fill="#089981"/>
<line x1="388.4" y1="338.51" x2="388.4" y2="346.25" stroke="#f23645" stroke-width="0.8"/>
<rect x="387.4" y="339.4" width="2" height="2.93" fill="#f23645"/>
<line x1="390.62" y1="317.29" x2="390.62" y2="343.24" stroke="#089981" stroke-width="0.8"/>
<rect x="389.62" y="317.9" width="2" height="23.46" fill="#089981"/>
<line x1="392.85" y1="318" x2="392.85" y2="330.01" stroke="#f23645" stroke-width="0.8"/>
<rect x="391.85" y="318.88" width="2" height="9.78" fill="#f23645"/>
<line x1="395.07" y1="313.21" x2="395.07" y2="330.14" stroke="#089981" stroke-width="0.8"/>
<rect x="394.07" y="314.97" width="2" height="13.69" fill="#089981"/>
<line x1="397.3" y1="295.27" x2="397.3" y2="316.4" stroke="#089981" stroke-width="0.8"/>
<rect x="396.3" y="296.39" width="2" height="18.57" fill="#089981"/>
<line x1="399.53" y1="295.88" x2="399.53" y2="305.09" stroke="#f23645" stroke-width="0.8"/>
<rect x="398.53" y="297.37" width="2" height="5.87" fill="#f23645"/>
<line x1="401.75" y1="292.22" x2="401.75" y2="303.75" stroke="#089981" stroke-width="0.8"/>
<rect x="400.75" y="295.16" width="2" height="7.82" fill="#089981"/>
<line x1="403.98" y1="297.57" x2="403.98" y2="308.86" stroke="#f23645" stroke-width="0.8"/>
<rect x="402.98" y="299.07" width="2" height="8.8" fill="#f23645"/>
<line x1="406.2" y1="294.11" x2="406.2" y2="310.8" stroke="#089981" stroke-width="0.8"/>
<rect x="405.2" y="295.16" width="2" height="12.71" fill="#089981"/>
<line x1="408.43" y1="291.37" x2="408.43" y2="298.52" stroke="#089981" stroke-width="0.8"/>
<rect x="407.43" y="293.2" width="2" height="3.91" fill="#089981"/>
<line x1="410.66" y1="291.7" x2="410.66" y2="296.97" stroke="#f23645" stroke-width="0.8"/>
<rect x="409.66" y="293.2" width="2" height="1.96" fill="#f23645"/>
<line x1="412.88" y1="284.3" x2="412.88" y2="296.47" stroke="#089981" stroke-width="0.8"/>
<rect x="411.88" y="286.36" width="2" height="8.8" fill="#089981"/>
<line x1="415.11" y1="283.43" x2="415.11" y2="289.89" stroke="#089981" stroke-width="0.8"/>
<rect x="414.11" y="286.36" width="2" height="1.96" fill="#089981"/>
<line x1="417.33" y1="284.95" x2="417.33" y2="294.62" stroke="#f23645" stroke-width="0.8"/>
<rect x="416.33" y="286.36" width="2" height="6.84" fill="#f23645"/>
<line x1="419.56" y1="270.97" x2="419.56" y2="294.53" stroke="#089981" stroke-width="0.8"/>
<rect x="418.56" y="272.67" width="2" height="20.53" fill="#089981"/>
<line x1="421.79" y1="268.29" x2="421.79" y2="275.99" stroke="#089981" stroke-width="0.8"/>
<rect x="420.79" y="269.74" width="2" height="4.89" fill="#089981"/>
<line x1="424.01" y1="266.66" x2="424.01" y2="274.39" stroke="#089981" stroke-width="0.8"/>
<rect x="423.01" y="268.76" width="2" height="3.91" fill="#089981"/>
<line x1="426.24" y1="264.85" x2="426.24" y2="274.68" stroke="#f23645" stroke-width="0.8"/>
<rect x="425.24" y="269.74" width="2" height="2.93" fill="#f23645"/>
<line x1="428.46" y1="269.59" x2="428.46" y2="276.62" stroke="#f23645" stroke-width="0.8"/>
<rect x="427.46" y="271.7" width="2" height="3.91" fill="#f23645"/>
<line x1="430.69" y1="272.16" x2="430.69" y2="279.67" stroke="#f23645" stroke-width="0.8"/>
<rect x="429.69" y="273.65" width="2" height="3.91" fill="#f23645"/>
<line x1="432.92" y1="269.74" x2="432.92" y2="281.46" stroke="#f23645" stroke-width="0.8"/>
<rect x="431.92" y="275.61" width="2" height="3.91" fill="#f23645"/>
<line x1="435.14" y1="276.35" x2="435.14" y2="279.33" stroke="#089981" stroke-width="0.8"/>
<rect x="434.14" y="277.17" width="2" height="1.37" fill="#089981"/>
<line x1="437.37" y1="272.34" x2="437.37" y2="285.38" stroke="#089981" stroke-width="0.8"/>
<rect x="436.37" y="273.65" width="2" height="5.87" fill="#089981"/>
<line x1="439.59" y1="267.79" x2="439.59" y2="276.32" stroke="#089981" stroke-width="0.8"/>
<rect x="438.59" y="270.72" width="2" height="4.89" fill="#089981"/>
<line x1="441.82" y1="270.71" x2="441.82" y2="277.3" stroke="#f23645" stroke-width="0.8"/>
<rect x="440.82" y="271.7" width="2" height="4.89" fill="#f23645"/>
<line x1="444.05" y1="273.93" x2="444.05" y2="280.39" stroke="#f23645" stroke-width="0.8"/>
<rect x="443.05" y="275.61" width="2" height="2.93" fill="#f23645"/>
<line x1="446.27" y1="275.53" x2="446.27" y2="282.32" stroke="#f23645" stroke-width="0.8"/>
<rect x="445.27" y="277.56" width="2" height="3.91" fill="#f23645"/>
<line x1="448.5" y1="276.21" x2="448.5" y2="283.13" stroke="#089981" stroke-width="0.8"/>
<rect x="447.5" y="277.95" width="2" height="3.52" fill="#089981"/>
<line x1="450.72" y1="277.71" x2="450.72" y2="284.4" stroke="#089981" stroke-width="0.8"/>
<rect x="449.72" y="278.54" width="2" height="1.96" fill="#089981"/>
<line x1="452.95" y1="273.59" x2="452.95" y2="281.66" stroke="#089981" stroke-width="0.8"/>
<rect x="451.95" y="275.61" width="2" height="3.91" fill="#089981"/>
<line x1="455.18" y1="255.1" x2="455.18" y2="279.69" stroke="#089981" stroke-width="0.8"/>
<rect x="454.18" y="256.06" width="2" height="21.51" fill="#089981"/>
<line x1="457.4" y1="242.11" x2="457.4" y2="257.44" stroke="#089981" stroke-width="0.8"/>
<rect x="456.4" y="243.35" width="2" height="12.71" fill="#089981"/>
<line x1="459.63" y1="237.25" x2="459.63" y2="248.21" stroke="#089981" stroke-width="0.8"/>
<rect x="458.63" y="239.44" width="2" height="6.84" fill="#089981"/>
<line x1="461.85" y1="238.58" x2="461.85" y2="250.19" stroke="#f23645" stroke-width="0.8"/>
<rect x="460.85" y="239.44" width="2" height="7.82" fill="#f23645"/>
<line x1="464.08" y1="237.17" x2="464.08" y2="248.68" stroke="#089981" stroke-width="0.8"/>
<rect x="463.08" y="238.46" width="2" height="8.8" fill="#089981"/>
<line x1="466.31" y1="232.6" x2="466.31" y2="254.1" stroke="#089981" stroke-width="0.8"/>
<rect x="465.31" y="233.57" width="2" height="10.75" fill="#089981"/>
<line x1="468.53" y1="232.43" x2="468.53" y2="244.26" stroke="#f23645" stroke-width="0.8"/>
<rect x="467.53" y="233.57" width="2" height="9.78" fill="#f23645"/>
<line x1="470.76" y1="242.24" x2="470.76" y2="252.92" stroke="#f23645" stroke-width="0.8"/>
<rect x="469.76" y="243.35" width="2" height="7.82" fill="#f23645"/>
<line x1="472.98" y1="248.58" x2="472.98" y2="254.61" stroke="#f23645" stroke-width="0.8"/>
<rect x="471.98" y="249.21" width="2" height="3.91" fill="#f23645"/>
<line x1="475.21" y1="249.86" x2="475.21" y2="255.08" stroke="#f23645" stroke-width="0.8"/>
<rect x="474.21" y="251.17" width="2" height="1.37" fill="#f23645"/>
<line x1="477.44" y1="241.98" x2="477.44" y2="253.75" stroke="#089981" stroke-width="0.8"/>
<rect x="476.44" y="244.33" width="2" height="8.8" fill="#089981"/>
<line x1="479.66" y1="244.17" x2="479.66" y2="260.94" stroke="#f23645" stroke-width="0.8"/>
<rect x="478.66" y="245.3" width="2" height="7.82" fill="#f23645"/>
<line x1="481.89" y1="247.61" x2="481.89" y2="254.54" stroke="#089981" stroke-width="0.8"/>
<rect x="480.89" y="249.21" width="2" height="3.91" fill="#089981"/>
<line x1="484.11" y1="243.62" x2="484.11" y2="253.34" stroke="#089981" stroke-width="0.8"/>
<rect x="483.11" y="244.33" width="2" height="6.84" fill="#089981"/>
<line x1="486.34" y1="236.21" x2="486.34" y2="247.46" stroke="#089981" stroke-width="0.8"/>
<rect x="485.34" y="238.07" width="2" height="7.23" fill="#089981"/>
<line x1="488.57" y1="230.25" x2="488.57" y2="245.09" stroke="#f23645" stroke-width="0.8"/>
<rect x="487.57" y="238.46" width="2" height="5.87" fill="#f23645"/>
<line x1="490.79" y1="242.32" x2="490.79" y2="245.97" stroke="#f23645" stroke-width="0.8"/>
<rect x="489.79" y="243.35" width="2" height="1.96" fill="#f23645"/>
<line x1="493.02" y1="241.5" x2="493.02" y2="249.8" stroke="#089981" stroke-width="0.8"/>
<rect x="492.02" y="243.35" width="2" height="0.98" fill="#089981"/>
<line x1="495.24" y1="239.38" x2="495.24" y2="245.13" stroke="#089981" stroke-width="0.8"/>
<rect x="494.24" y="240.42" width="2" height="3.91" fill="#089981"/>
<line x1="497.47" y1="238.85" x2="497.47" y2="243.65" stroke="#089981" stroke-width="0.8"/>
<rect x="496.47" y="240.42" width="2" height="1.96" fill="#089981"/>
<line x1="499.7" y1="239.33" x2="499.7" y2="249.17" stroke="#f23645" stroke-width="0.8"/>
<rect x="498.7" y="241.39" width="2" height="5.87" fill="#f23645"/>
<line x1="501.92" y1="245.27" x2="501.92" y2="253.96" stroke="#f23645" stroke-width="0.8"/>
<rect x="500.92" y="246.28" width="2" height="6.84" fill="#f23645"/>
<line x1="504.15" y1="251.05" x2="504.15" y2="267.34" stroke="#f23645" stroke-width="0.8"/>
<rect x="503.15" y="253.12" width="2" height="12.71" fill="#f23645"/>
<line x1="506.37" y1="263.13" x2="506.37" y2="269.51" stroke="#089981" stroke-width="0.8"/>
<rect x="505.37" y="264.85" width="2" height="3.91" fill="#089981"/>
<line x1="508.6" y1="263.18" x2="508.6" y2="272.67" stroke="#089981" stroke-width="0.8"/>
<rect x="507.6" y="263.88" width="2" height="6.84" fill="#089981"/>
<line x1="510.83" y1="262.17" x2="510.83" y2="267.5" stroke="#f23645" stroke-width="0.8"/>
<rect x="509.83" y="263.88" width="2" height="2.35" fill="#f23645"/>
<line x1="513.05" y1="256.06" x2="513.05" y2="267.52" stroke="#f23645" stroke-width="0.8"/>
<rect x="512.05" y="263.88" width="2" height="2.93" fill="#f23645"/>
<line x1="515.28" y1="262.75" x2="515.28" y2="272.33" stroke="#f23645" stroke-width="0.8"/>
<rect x="514.28" y="264.85" width="2" height="5.87" fill="#f23645"/>
<line x1="517.5" y1="266.88" x2="517.5" y2="284.4" stroke="#f23645" stroke-width="0.8"/>
<rect x="516.5" y="268.76" width="2" height="12.71" fill="#f23645"/>
<line x1="519.73" y1="274.87" x2="519.73" y2="283.44" stroke="#089981" stroke-width="0.8"/>
<rect x="518.73" y="275.61" width="2" height="5.87" fill="#089981"/>
<line x1="521.96" y1="270.99" x2="521.96" y2="279.54" stroke="#089981" stroke-width="0.8"/>
<rect x="520.96" y="271.7" width="2" height="5.87" fill="#089981"/>
<line x1="524.18" y1="268.41" x2="524.18" y2="275.77" stroke="#089981" stroke-width="0.8"/>
<rect x="523.18" y="269.74" width="2" height="4.89" fill="#089981"/>
<line x1="526.41" y1="258.48" x2="526.41" y2="273.78" stroke="#089981" stroke-width="0.8"/>
<rect x="525.41" y="259.97" width="2" height="11.73" fill="#089981"/>
<line x1="528.63" y1="254.05" x2="528.63" y2="261.75" stroke="#089981" stroke-width="0.8"/>
<rect x="527.63" y="255.08" width="2" height="5.87" fill="#089981"/>
<line x1="530.86" y1="251.17" x2="530.86" y2="260.43" stroke="#f23645" stroke-width="0.8"/>
<rect x="529.86" y="255.08" width="2" height="3.91" fill="#f23645"/>
<line x1="533.09" y1="258.98" x2="533.09" y2="271.49" stroke="#f23645" stroke-width="0.8"/>
<rect x="532.09" y="259.97" width="2" height="10.75" fill="#f23645"/>
<line x1="535.31" y1="269.86" x2="535.31" y2="285.38" stroke="#f23645" stroke-width="0.8"/>
<rect x="534.31" y="270.72" width="2" height="6.84" fill="#f23645"/>
<line x1="537.54" y1="274.93" x2="537.54" y2="281.42" stroke="#f23645" stroke-width="0.8"/>
<rect x="536.54" y="275.61" width="2" height="4.89" fill="#f23645"/>
<line x1="539.76" y1="268.64" x2="539.76" y2="281.58" stroke="#089981" stroke-width="0.8"/>
<rect x="538.76" y="269.74" width="2" height="10.75" fill="#089981"/>
<line x1="541.99" y1="262.9" x2="541.99" y2="274.49" stroke="#f23645" stroke-width="0.8"/>
<rect x="540.99" y="269.74" width="2" height="2.93" fill="#f23645"/>
<line x1="544.22" y1="270.63" x2="544.22" y2="278.96" stroke="#f23645" stroke-width="0.8"/>
<rect x="543.22" y="271.7" width="2" height="5.87" fill="#f23645"/>
<line x1="546.44" y1="275.7" x2="546.44" y2="280.67" stroke="#f23645" stroke-width="0.8"/>
<rect x="545.44" y="276.58" width="2" height="2.93" fill="#f23645"/>
<line x1="548.67" y1="277.91" x2="548.67" y2="281.49" stroke="#089981" stroke-width="0.8"/>
<rect x="547.67" y="278.54" width="2" height="1.96" fill="#089981"/>
<line x1="550.89" y1="275.96" x2="550.89" y2="294" stroke="#f23645" stroke-width="0.8"/>
<rect x="549.89" y="276.58" width="2" height="15.64" fill="#f23645"/>
<line x1="553.12" y1="286.83" x2="553.12" y2="295.08" stroke="#f23645" stroke-width="0.8"/>
<rect x="552.12" y="288.31" width="2" height="5.87" fill="#f23645"/>
<line x1="555.35" y1="290.86" x2="555.35" y2="306.5" stroke="#f23645" stroke-width="0.8"/>
<rect x="554.35" y="292.22" width="2" height="6.84" fill="#f23645"/>
<line x1="557.57" y1="278.4" x2="557.57" y2="299.84" stroke="#089981" stroke-width="0.8"/>
<rect x="556.57" y="280.49" width="2" height="18.57" fill="#089981"/>
<line x1="559.8" y1="275.65" x2="559.8" y2="282.76" stroke="#089981" stroke-width="0.8"/>
<rect x="558.8" y="277.56" width="2" height="3.91" fill="#089981"/>
<line x1="562.02" y1="275.19" x2="562.02" y2="285.36" stroke="#f23645" stroke-width="0.8"/>
<rect x="561.02" y="276.58" width="2" height="6.84" fill="#f23645"/>
<line x1="564.25" y1="282.2" x2="564.25" y2="289.72" stroke="#f23645" stroke-width="0.8"/>
<rect x="563.25" y="283.43" width="2" height="4.89" fill="#f23645"/>
<line x1="566.48" y1="281.73" x2="566.48" y2="291.46" stroke="#089981" stroke-width="0.8"/>
<rect x="565.48" y="283.43" width="2" height="5.87" fill="#089981"/>
<line x1="568.7" y1="270.55" x2="568.7" y2="286.34" stroke="#089981" stroke-width="0.8"/>
<rect x="567.7" y="271.7" width="2" height="12.71" fill="#089981"/>
<line x1="570.93" y1="266.06" x2="570.93" y2="274.29" stroke="#089981" stroke-width="0.8"/>
<rect x="569.93" y="267.79" width="2" height="4.89" fill="#089981"/>
<line x1="573.15" y1="260.94" x2="573.15" y2="273.92" stroke="#089981" stroke-width="0.8"/>
<rect x="572.15" y="266.81" width="2" height="5.87" fill="#089981"/>
<line x1="575.38" y1="265.65" x2="575.38" y2="278.25" stroke="#f23645" stroke-width="0.8"/>
<rect x="574.38" y="266.81" width="2" height="10.75" fill="#f23645"/>
<line x1="577.61" y1="267.96" x2="577.61" y2="276.32" stroke="#f23645" stroke-width="0.8"/>
<rect x="576.61" y="268.76" width="2" height="6.84" fill="#f23645"/>
<line x1="579.83" y1="264.85" x2="579.83" y2="273.48" stroke="#089981" stroke-width="0.8"/>
<rect x="578.83" y="267.79" width="2" height="3.91" fill="#089981"/>
<line x1="582.06" y1="268.73" x2="582.06" y2="278.42" stroke="#f23645" stroke-width="0.8"/>
<rect x="581.06" y="269.74" width="2" height="7.82" fill="#f23645"/>
<line x1="584.28" y1="274.87" x2="584.28" y2="279.51" stroke="#f23645" stroke-width="0.8"/>
<rect x="583.28" y="275.61" width="2" height="1.96" fill="#f23645"/>
<line x1="586.51" y1="268.73" x2="586.51" y2="278.26" stroke="#089981" stroke-width="0.8"/>
<rect x="585.51" y="270.72" width="2" height="5.87" fill="#089981"/>
<line x1="588.74" y1="269.67" x2="588.74" y2="275.62" stroke="#f23645" stroke-width="0.8"/>
<rect x="587.74" y="270.72" width="2" height="3.91" fill="#f23645"/>
<line x1="590.96" y1="269.65" x2="590.96" y2="275.96" stroke="#089981" stroke-width="0.8"/>
<rect x="589.96" y="270.72" width="2" height="3.91" fill="#089981"/>
<line x1="593.19" y1="263.02" x2="593.19" y2="273.01" stroke="#089981" stroke-width="0.8"/>
<rect x="592.19" y="263.88" width="2" height="7.82" fill="#089981"/>
<line x1="595.41" y1="254.06" x2="595.41" y2="266.01" stroke="#089981" stroke-width="0.8"/>
<rect x="594.41" y="255.08" width="2" height="8.8" fill="#089981"/>
<line x1="597.64" y1="251.17" x2="597.64" y2="262.12" stroke="#f23645" stroke-width="0.8"/>
<rect x="596.64" y="256.06" width="2" height="3.91" fill="#f23645"/>
<line x1="599.87" y1="255.97" x2="599.87" y2="263.33" stroke="#f23645" stroke-width="0.8"/>
<rect x="598.87" y="257.45" width="2" height="4.89" fill="#f23645"/>
<line x1="602.09" y1="257.26" x2="602.09" y2="262.45" stroke="#089981" stroke-width="0.8"/>
<rect x="601.09" y="259.4" width="2" height="1.96" fill="#089981"/>
<line x1="604.32" y1="251.58" x2="604.32" y2="262.53" stroke="#089981" stroke-width="0.8"/>
<rect x="603.32" y="257.45" width="2" height="3.91" fill="#089981"/>
<line x1="606.54" y1="256.85" x2="606.54" y2="264.29" stroke="#089981" stroke-width="0.8"/>
<rect x="605.54" y="257.45" width="2" height="2.93" fill="#089981"/>
<line x1="608.77" y1="243.53" x2="608.77" y2="258.81" stroke="#089981" stroke-width="0.8"/>
<rect x="607.77" y="244.74" width="2" height="12.71" fill="#089981"/>
<line x1="611" y1="239.43" x2="611" y2="246.64" stroke="#089981" stroke-width="0.8"/>
<rect x="610" y="240.83" width="2" height="4.89" fill="#089981"/>
<line x1="613.22" y1="233.99" x2="613.22" y2="245.17" stroke="#089981" stroke-width="0.8"/>
<rect x="612.22" y="241.81" width="2" height="1.96" fill="#089981"/>
<line x1="615.45" y1="240.61" x2="615.45" y2="243.42" stroke="#f23645" stroke-width="0.8"/>
<rect x="614.45" y="241.22" width="2" height="1.17" fill="#f23645"/>
<line x1="617.67" y1="236.18" x2="617.67" y2="243.05" stroke="#089981" stroke-width="0.8"/>
<rect x="616.67" y="236.92" width="2" height="4.89" fill="#089981"/>
<line x1="619.9" y1="220.61" x2="619.9" y2="237.56" stroke="#089981" stroke-width="0.8"/>
<rect x="618.9" y="221.28" width="2" height="15.64" fill="#089981"/>
<line x1="622.13" y1="210.81" x2="622.13" y2="223.23" stroke="#089981" stroke-width="0.8"/>
<rect x="621.13" y="211.9" width="2" height="10.36" fill="#089981"/>
<line x1="624.35" y1="210.95" x2="624.35" y2="229.57" stroke="#f23645" stroke-width="0.8"/>
<rect x="623.35" y="212.48" width="2" height="15.64" fill="#f23645"/>
<line x1="626.58" y1="226.32" x2="626.58" y2="239.55" stroke="#f23645" stroke-width="0.8"/>
<rect x="625.58" y="228.12" width="2" height="9.78" fill="#f23645"/>
<line x1="628.8" y1="229.31" x2="628.8" y2="242.79" stroke="#089981" stroke-width="0.8"/>
<rect x="627.8" y="231.06" width="2" height="5.87" fill="#089981"/>
<line x1="631.03" y1="227.09" x2="631.03" y2="234.23" stroke="#089981" stroke-width="0.8"/>
<rect x="630.03" y="229.1" width="2" height="3.91" fill="#089981"/>
<line x1="633.26" y1="227" x2="633.26" y2="234.21" stroke="#089981" stroke-width="0.8"/>
<rect x="632.26" y="228.12" width="2" height="3.91" fill="#089981"/>
<line x1="635.48" y1="222.26" x2="635.48" y2="234.83" stroke="#f23645" stroke-width="0.8"/>
<rect x="634.48" y="228.12" width="2" height="5.87" fill="#f23645"/>
<line x1="637.71" y1="231.25" x2="637.71" y2="238.55" stroke="#f23645" stroke-width="0.8"/>
<rect x="636.71" y="233.01" width="2" height="3.91" fill="#f23645"/>
<line x1="639.93" y1="235.27" x2="639.93" y2="243.74" stroke="#f23645" stroke-width="0.8"/>
<rect x="638.93" y="235.94" width="2" height="5.87" fill="#f23645"/>
<line x1="642.16" y1="238.8" x2="642.16" y2="249.28" stroke="#f23645" stroke-width="0.8"/>
<rect x="641.16" y="240.83" width="2" height="6.84" fill="#f23645"/>
<line x1="644.39" y1="244.92" x2="644.39" y2="259.35" stroke="#f23645" stroke-width="0.8"/>
<rect x="643.39" y="246.7" width="2" height="10.75" fill="#f23645"/>
<line x1="646.61" y1="256.63" x2="646.61" y2="266.71" stroke="#f23645" stroke-width="0.8"/>
<rect x="645.61" y="257.45" width="2" height="7.82" fill="#f23645"/>
<line x1="648.84" y1="256.04" x2="648.84" y2="266.23" stroke="#089981" stroke-width="0.8"/>
<rect x="647.84" y="257.45" width="2" height="6.84" fill="#089981"/>
<line x1="651.06" y1="246.76" x2="651.06" y2="260.35" stroke="#089981" stroke-width="0.8"/>
<rect x="650.06" y="248.65" width="2" height="9.78" fill="#089981"/>
<line x1="653.29" y1="247.67" x2="653.29" y2="259.96" stroke="#f23645" stroke-width="0.8"/>
<rect x="652.29" y="248.65" width="2" height="9.78" fill="#f23645"/>
<line x1="655.52" y1="249.56" x2="655.52" y2="260.12" stroke="#089981" stroke-width="0.8"/>
<rect x="654.52" y="251.58" width="2" height="6.84" fill="#089981"/>
<line x1="657.74" y1="241.08" x2="657.74" y2="253.53" stroke="#089981" stroke-width="0.8"/>
<rect x="656.74" y="242.79" width="2" height="9.78" fill="#089981"/>
<line x1="659.97" y1="239.2" x2="659.97" y2="244.58" stroke="#089981" stroke-width="0.8"/>
<rect x="658.97" y="239.85" width="2" height="3.91" fill="#089981"/>
<line x1="662.19" y1="235.74" x2="662.19" y2="241.99" stroke="#089981" stroke-width="0.8"/>
<rect x="661.19" y="236.92" width="2" height="4.3" fill="#089981"/>
<line x1="664.42" y1="232.03" x2="664.42" y2="240.81" stroke="#089981" stroke-width="0.8"/>
<rect x="663.42" y="233.99" width="2" height="4.89" fill="#089981"/>
<line x1="666.65" y1="232.49" x2="666.65" y2="245.37" stroke="#f23645" stroke-width="0.8"/>
<rect x="665.65" y="233.99" width="2" height="9.78" fill="#f23645"/>
<line x1="668.87" y1="223.59" x2="668.87" y2="245.45" stroke="#089981" stroke-width="0.8"/>
<rect x="667.87" y="225.19" width="2" height="18.57" fill="#089981"/>
<line x1="671.1" y1="212.08" x2="671.1" y2="226.77" stroke="#089981" stroke-width="0.8"/>
<rect x="670.1" y="213.46" width="2" height="12.71" fill="#089981"/>
<line x1="673.32" y1="208.57" x2="673.32" y2="227.07" stroke="#f23645" stroke-width="0.8"/>
<rect x="672.32" y="215.42" width="2" height="9.78" fill="#f23645"/>
<line x1="675.55" y1="223.39" x2="675.55" y2="233.44" stroke="#f23645" stroke-width="0.8"/>
<rect x="674.55" y="225.19" width="2" height="6.84" fill="#f23645"/>
<line x1="677.78" y1="226.67" x2="677.78" y2="233.69" stroke="#089981" stroke-width="0.8"/>
<rect x="676.78" y="228.12" width="2" height="3.91" fill="#089981"/>
<line x1="680" y1="221.28" x2="680" y2="229.81" stroke="#089981" stroke-width="0.8"/>
<rect x="679" y="224.21" width="2" height="4.89" fill="#089981"/>
<line x1="682.23" y1="224.39" x2="682.23" y2="236.95" stroke="#f23645" stroke-width="0.8"/>
<rect x="681.23" y="226.17" width="2" height="9.78" fill="#f23645"/>
<line x1="684.45" y1="234.25" x2="684.45" y2="243.81" stroke="#f23645" stroke-width="0.8"/>
<rect x="683.45" y="234.97" width="2" height="7.82" fill="#f23645"/>
<line x1="686.68" y1="228.31" x2="686.68" y2="243.32" stroke="#089981" stroke-width="0.8"/>
<rect x="685.68" y="230.08" width="2" height="12.32" fill="#089981"/>
<line x1="688.91" y1="228.29" x2="688.91" y2="240.06" stroke="#f23645" stroke-width="0.8"/>
<rect x="687.91" y="230.08" width="2" height="7.82" fill="#f23645"/>
<line x1="691.13" y1="215.31" x2="691.13" y2="240.39" stroke="#089981" stroke-width="0.8"/>
<rect x="690.13" y="216.7" width="2" height="22.48" fill="#089981"/>
<line x1="693.36" y1="209.46" x2="693.36" y2="219.37" stroke="#089981" stroke-width="0.8"/>
<rect x="692.36" y="210.83" width="2" height="6.84" fill="#089981"/>
<line x1="695.58" y1="206.66" x2="695.58" y2="212.81" stroke="#089981" stroke-width="0.8"/>
<rect x="694.58" y="208.48" width="2" height="2.74" fill="#089981"/>
<line x1="697.81" y1="205.36" x2="697.81" y2="232.01" stroke="#f23645" stroke-width="0.8"/>
<rect x="696.81" y="206.92" width="2" height="23.46" fill="#f23645"/>
<line x1="700.04" y1="220.86" x2="700.04" y2="232.19" stroke="#089981" stroke-width="0.8"/>
<rect x="699.04" y="221.58" width="2" height="9.78" fill="#089981"/>
<line x1="702.26" y1="211.78" x2="702.26" y2="224.35" stroke="#089981" stroke-width="0.8"/>
<rect x="701.26" y="212.79" width="2" height="9.78" fill="#089981"/>
<line x1="704.49" y1="200.95" x2="704.49" y2="216.25" stroke="#089981" stroke-width="0.8"/>
<rect x="703.49" y="202.03" width="2" height="12.71" fill="#089981"/>
<line x1="706.71" y1="201.06" x2="706.71" y2="214.38" stroke="#f23645" stroke-width="0.8"/>
<rect x="705.71" y="203.99" width="2" height="9.78" fill="#f23645"/>
<line x1="708.94" y1="211.11" x2="708.94" y2="218.7" stroke="#f23645" stroke-width="0.8"/>
<rect x="707.94" y="211.81" width="2" height="5.87" fill="#f23645"/>
<line x1="711.17" y1="211.11" x2="711.17" y2="220.36" stroke="#f23645" stroke-width="0.8"/>
<rect x="710.17" y="212.79" width="2" height="5.87" fill="#f23645"/>
<line x1="713.39" y1="214.04" x2="713.39" y2="222.65" stroke="#f23645" stroke-width="0.8"/>
<rect x="712.39" y="215.72" width="2" height="5.87" fill="#f23645"/>
<line x1="715.62" y1="206.47" x2="715.62" y2="221.95" stroke="#089981" stroke-width="0.8"/>
<rect x="714.62" y="207.9" width="2" height="12.71" fill="#089981"/>
<line x1="717.84" y1="205.57" x2="717.84" y2="209.67" stroke="#089981" stroke-width="0.8"/>
<rect x="716.84" y="206.92" width="2" height="1.96" fill="#089981"/>
<line x1="720.07" y1="204.89" x2="720.07" y2="213.7" stroke="#f23645" stroke-width="0.8"/>
<rect x="719.07" y="206.92" width="2" height="5.87" fill="#f23645"/>
<line x1="722.3" y1="210.23" x2="722.3" y2="216.45" stroke="#f23645" stroke-width="0.8"/>
<rect x="721.3" y="212.39" width="2" height="1.96" fill="#f23645"/>
<line x1="724.52" y1="213.14" x2="724.52" y2="219.01" stroke="#f23645" stroke-width="0.8"/>
<rect x="723.52" y="213.76" width="2" height="3.91" fill="#f23645"/>
<line x1="726.75" y1="209.9" x2="726.75" y2="218.84" stroke="#089981" stroke-width="0.8"/>
<rect x="725.75" y="211.81" width="2" height="4.89" fill="#089981"/>
<line x1="728.97" y1="202.67" x2="728.97" y2="212.84" stroke="#089981" stroke-width="0.8"/>
<rect x="727.97" y="203.99" width="2" height="7.82" fill="#089981"/>
<line x1="731.2" y1="199.14" x2="731.2" y2="208.06" stroke="#089981" stroke-width="0.8"/>
<rect x="730.2" y="200.08" width="2" height="5.87" fill="#089981"/>
<line x1="733.43" y1="194.25" x2="733.43" y2="202.59" stroke="#089981" stroke-width="0.8"/>
<rect x="732.43" y="195.19" width="2" height="5.87" fill="#089981"/>
<line x1="735.65" y1="191.43" x2="735.65" y2="197.61" stroke="#089981" stroke-width="0.8"/>
<rect x="734.65" y="192.26" width="2" height="3.91" fill="#089981"/>
<line x1="737.88" y1="177.43" x2="737.88" y2="193.07" stroke="#089981" stroke-width="0.8"/>
<rect x="736.88" y="179.55" width="2" height="12.71" fill="#089981"/>
<line x1="740.1" y1="177.64" x2="740.1" y2="184.87" stroke="#089981" stroke-width="0.8"/>
<rect x="739.1" y="179.55" width="2" height="3.91" fill="#089981"/>
<line x1="742.33" y1="174.08" x2="742.33" y2="184.5" stroke="#f23645" stroke-width="0.8"/>
<rect x="741.33" y="177.6" width="2" height="4.89" fill="#f23645"/>
<line x1="744.56" y1="179.78" x2="744.56" y2="186.39" stroke="#f23645" stroke-width="0.8"/>
<rect x="743.56" y="181.51" width="2" height="3.91" fill="#f23645"/>
<line x1="746.78" y1="181.42" x2="746.78" y2="188.75" stroke="#089981" stroke-width="0.8"/>
<rect x="745.78" y="183.46" width="2" height="3.91" fill="#089981"/>
<line x1="749.01" y1="176.96" x2="749.01" y2="187" stroke="#089981" stroke-width="0.8"/>
<rect x="748.01" y="177.6" width="2" height="8.8" fill="#089981"/>
<line x1="751.23" y1="172.12" x2="751.23" y2="180.94" stroke="#089981" stroke-width="0.8"/>
<rect x="750.23" y="175.64" width="2" height="3.91" fill="#089981"/>
<line x1="753.46" y1="175.3" x2="753.46" y2="184.54" stroke="#f23645" stroke-width="0.8"/>
<rect x="752.46" y="176.62" width="2" height="6.84" fill="#f23645"/>
<line x1="755.69" y1="181.66" x2="755.69" y2="185.59" stroke="#089981" stroke-width="0.8"/>
<rect x="754.69" y="182.48" width="2" height="1.96" fill="#089981"/>
<line x1="757.91" y1="181.38" x2="757.91" y2="187.36" stroke="#f23645" stroke-width="0.8"/>
<rect x="756.91" y="182.48" width="2" height="2.93" fill="#f23645"/>
<line x1="760.14" y1="184.81" x2="760.14" y2="199.92" stroke="#f23645" stroke-width="0.8"/>
<rect x="759.14" y="185.42" width="2" height="12.71" fill="#f23645"/>
<line x1="762.36" y1="196.18" x2="762.36" y2="204.78" stroke="#f23645" stroke-width="0.8"/>
<rect x="761.36" y="198.12" width="2" height="5.87" fill="#f23645"/>
<line x1="764.59" y1="197.02" x2="764.59" y2="207.68" stroke="#f23645" stroke-width="0.8"/>
<rect x="763.59" y="199.1" width="2" height="6.84" fill="#f23645"/>
<line x1="766.82" y1="204.88" x2="766.82" y2="226.56" stroke="#f23645" stroke-width="0.8"/>
<rect x="765.82" y="206.92" width="2" height="18.57" fill="#f23645"/>
<line x1="769.04" y1="211.59" x2="769.04" y2="226.72" stroke="#089981" stroke-width="0.8"/>
<rect x="768.04" y="212.79" width="2" height="12.71" fill="#089981"/>
<line x1="771.27" y1="210.59" x2="771.27" y2="216.28" stroke="#089981" stroke-width="0.8"/>
<rect x="770.27" y="212.79" width="2" height="1.96" fill="#089981"/>
<line x1="773.49" y1="205.74" x2="773.49" y2="215.05" stroke="#089981" stroke-width="0.8"/>
<rect x="772.49" y="206.92" width="2" height="6.84" fill="#089981"/>
<line x1="775.72" y1="203.93" x2="775.72" y2="209.55" stroke="#089981" stroke-width="0.8"/>
<rect x="774.72" y="204.97" width="2" height="3.91" fill="#089981"/>
<line x1="777.95" y1="205.18" x2="777.95" y2="211.79" stroke="#f23645" stroke-width="0.8"/>
<rect x="776.95" y="205.94" width="2" height="3.91" fill="#f23645"/>
<line x1="780.17" y1="196.09" x2="780.17" y2="212.93" stroke="#089981" stroke-width="0.8"/>
<rect x="779.17" y="197.15" width="2" height="13.69" fill="#089981"/>
<line x1="782.4" y1="185.39" x2="782.4" y2="198.17" stroke="#089981" stroke-width="0.8"/>
<rect x="781.4" y="186.39" width="2" height="10.75" fill="#089981"/>
<line x1="784.62" y1="184" x2="784.62" y2="192.18" stroke="#f23645" stroke-width="0.8"/>
<rect x="783.62" y="185.42" width="2" height="5.87" fill="#f23645"/>
<line x1="786.85" y1="187.15" x2="786.85" y2="195.37" stroke="#f23645" stroke-width="0.8"/>
<rect x="785.85" y="188.35" width="2" height="4.89" fill="#f23645"/>
<line x1="789.08" y1="183.4" x2="789.08" y2="194.16" stroke="#089981" stroke-width="0.8"/>
<rect x="788.08" y="185.42" width="2" height="6.84" fill="#089981"/>
<line x1="791.3" y1="182.83" x2="791.3" y2="193.34" stroke="#089981" stroke-width="0.8"/>
<rect x="790.3" y="184.44" width="2" height="6.84" fill="#089981"/>
<line x1="793.53" y1="185.27" x2="793.53" y2="200.58" stroke="#f23645" stroke-width="0.8"/>
<rect x="792.53" y="187.37" width="2" height="11.73" fill="#f23645"/>
<line x1="795.75" y1="189.53" x2="795.75" y2="199.78" stroke="#089981" stroke-width="0.8"/>
<rect x="794.75" y="191.28" width="2" height="7.82" fill="#089981"/>
<line x1="797.98" y1="189.51" x2="797.98" y2="201.4" stroke="#f23645" stroke-width="0.8"/>
<rect x="796.98" y="191.28" width="2" height="8.8" fill="#f23645"/>
<line x1="800.21" y1="194.36" x2="800.21" y2="247.98" stroke="#f23645" stroke-width="0.8"/>
<rect x="799.21" y="196.17" width="2" height="33.24" fill="#f23645"/>
<line x1="802.43" y1="225.82" x2="802.43" y2="243.09" stroke="#f23645" stroke-width="0.8"/>
<rect x="801.43" y="227.45" width="2" height="12.71" fill="#f23645"/>
<line x1="804.66" y1="218.57" x2="804.66" y2="240.83" stroke="#089981" stroke-width="0.8"/>
<rect x="803.66" y="219.63" width="2" height="20.53" fill="#089981"/>
<line x1="806.88" y1="206.79" x2="806.88" y2="221.41" stroke="#089981" stroke-width="0.8"/>
<rect x="805.88" y="208.88" width="2" height="11.73" fill="#089981"/>
<line x1="809.11" y1="206.92" x2="809.11" y2="225.87" stroke="#f23645" stroke-width="0.8"/>
<rect x="808.11" y="207.9" width="2" height="16.62" fill="#f23645"/>
<line x1="811.34" y1="214.57" x2="811.34" y2="225.59" stroke="#f23645" stroke-width="0.8"/>
<rect x="810.34" y="215.72" width="2" height="8.8" fill="#f23645"/>
<line x1="813.56" y1="217.85" x2="813.56" y2="238.41" stroke="#f23645" stroke-width="0.8"/>
<rect x="812.56" y="219.63" width="2" height="16.62" fill="#f23645"/>
<line x1="815.79" y1="230.34" x2="815.79" y2="244.07" stroke="#f23645" stroke-width="0.8"/>
<rect x="814.79" y="231.36" width="2" height="4.89" fill="#f23645"/>
<line x1="818.01" y1="228.73" x2="818.01" y2="236.35" stroke="#089981" stroke-width="0.8"/>
<rect x="817.01" y="230.38" width="2" height="4.89" fill="#089981"/>
<line x1="820.24" y1="226.93" x2="820.24" y2="233.57" stroke="#089981" stroke-width="0.8"/>
<rect x="819.24" y="228.43" width="2" height="3.91" fill="#089981"/>
<line x1="822.47" y1="226.58" x2="822.47" y2="232.22" stroke="#089981" stroke-width="0.8"/>
<rect x="821.47" y="227.45" width="2" height="3.91" fill="#089981"/>
<line x1="824.69" y1="220.61" x2="824.69" y2="235.22" stroke="#f23645" stroke-width="0.8"/>
<rect x="823.69" y="227.45" width="2" height="6.84" fill="#f23645"/>
<line x1="826.92" y1="231.26" x2="826.92" y2="241.13" stroke="#f23645" stroke-width="0.8"/>
<rect x="825.92" y="233.31" width="2" height="4.89" fill="#f23645"/>
<line x1="829.14" y1="225.08" x2="829.14" y2="239.15" stroke="#089981" stroke-width="0.8"/>
<rect x="828.14" y="226.47" width="2" height="11.73" fill="#089981"/>
<line x1="831.37" y1="222.47" x2="831.37" y2="229.64" stroke="#089981" stroke-width="0.8"/>
<rect x="830.37" y="224.52" width="2" height="2.93" fill="#089981"/>
<line x1="833.6" y1="221.24" x2="833.6" y2="226.32" stroke="#089981" stroke-width="0.8"/>
<rect x="832.6" y="222.56" width="2" height="2.93" fill="#089981"/>
<line x1="835.82" y1="215.79" x2="835.82" y2="223.31" stroke="#089981" stroke-width="0.8"/>
<rect x="834.82" y="216.7" width="2" height="5.87" fill="#089981"/>
<line x1="838.05" y1="212.79" x2="838.05" y2="219.8" stroke="#f23645" stroke-width="0.8"/>
<rect x="837.05" y="216.7" width="2" height="1.96" fill="#f23645"/>
<line x1="840.27" y1="214.97" x2="840.27" y2="226.48" stroke="#f23645" stroke-width="0.8"/>
<rect x="839.27" y="215.72" width="2" height="9.78" fill="#f23645"/>
<line x1="842.5" y1="217.64" x2="842.5" y2="226.03" stroke="#089981" stroke-width="0.8"/>
<rect x="841.5" y="218.65" width="2" height="5.87" fill="#089981"/>
</g>
<polyline fill="none" stroke="#ff9800" stroke-width="0.8" stroke-linejoin="round" points="0,285.4 19.5,282 45,278.6 58.6,274.3 78.2,266.5 97.8,257.7 119.3,248.9 136.9,244 156.4,241.6 176,240 200,239.3 219.5,234.2 239.1,228.9 258.6,227.4 278.2,227.4 297.7,230.3 317.3,234.2 336.8,238.7 356.4,243 375.9,247.5 400,254.2 419.5,257 439.1,259 454.7,259.6 478.2,257.6 501.7,256 517.3,257 536.9,259 556.4,260.5 576,261.9 592,262.6 609.5,261.4 629.1,258.8 648.7,257.4 668.2,255.5 687.7,253.2 707.3,250.3 726.9,246 746.4,240.6 756.2,238 766,236.4 785.5,233.6 799.5,230.9 817,230.8 843,230.4"/>
<line x1="0" y1="218.8" x2="975.5" y2="218.8" stroke="#089981" stroke-width="1.3" stroke-dasharray="0.85 1.22" opacity="0.55"/>
<polyline fill="none" stroke="#fdd835" stroke-width="1.5" stroke-linejoin="round" points="0,449.5 10,444.5 20,439.5 30,438.25 40,440.75 50,442.75 60,439.5 70,435.75 80,432 86.25,431.5 95,434 105,438.25 115,443.25 125,447 135,450.75 145,453.25 155,457 165,460 175,459.5 182.5,455.75 190,452.75 200,452.75 210,450.75 216,449 223.5,443.25 231,440.75 238.5,441.5 246,445.75 256,452.5 266,455.75 276,458.25 286,460 296,463.25 303.5,465.25 311,464 321,462 331,460 341,459 351,458.25 361,455.75 371,454.5 381,455.75 391,458.25 398.5,457 408.5,453.25 418.5,448.25 428.5,444 438.5,442 440,441.25 452.5,442 465,438.75 475,437.5 485,437.5 497.5,441.25 510,446.25 522.5,453.75 535,456.25 547.5,455.75 557.5,456.25 565,458 575,455 585,452.5 595,448.75 605,446.25 615,442.5 622.5,437.5 627.5,436.25 637.5,436.75 645,440 652.5,446.25 660,449.5 664,450.75 674,447 684,445.75 694,445 704,445 714,445.75 724,445.25 734,444 744,440.75 751.5,439 757.75,437.75 764,440.75 771.5,445.75 779,450 789,451.5 799,450 806.5,450.75 814,453.25 821.5,457 827.75,458.25 834,456.5 843.5,455.25"/>
<polyline fill="none" stroke="#7e57c2" stroke-width="1.5" stroke-linejoin="round" points="0,443.25 3.75,447 10,435.75 13.75,437 18.75,432 22,444 25,439.5 30,437 32.5,439.5 36.25,445.75 40,448.25 43.75,454 46.25,444.5 50,434.5 53.75,432 58.75,430.75 62.5,434.5 66.25,437 70,434.5 75,431.5 80,430 87.5,431.5 90,440.75 92.5,443.25 96.25,440 98.75,442 101.25,440.75 106.25,449.5 110,447 116.25,444.5 120,448.25 122.5,456.5 126.25,450.75 130,451.5 133.75,453.25 137.5,452 141.25,457 145,463.25 148.75,466.5 151.25,465.75 155,458.25 161.25,461.5 163.75,455.75 167.5,457 171.25,457 175,449.5 178.75,444.5 182.5,445.75 185,444.5 187.5,452 191.25,459 195,458.25 200,459 203.75,447 207.5,442 211.25,431.5 215.5,439.5 220,437 226.25,438.25 226,438.25 229.75,445.75 233.5,450 237.25,446.5 241,453.25 243.5,458.25 246,453.25 249.75,457 253.5,460.75 257.25,456.5 262.25,456.5 267.25,458.25 271,455.75 276,462 280.5,466.5 283.5,462.5 288.5,463.25 291,467 293.5,470.25 297.25,471.25 301,467 303.5,463.25 306.5,449 308.5,459.5 312.25,458.25 316,459.5 319.75,460.75 323.5,465 327.25,460.75 331,461.5 334.75,455.75 338.5,458.25 342.25,458.25 344.75,454 348.5,457 352.25,455.75 356,449.5 359.75,451.5 363.5,453.25 366,457.5 369.75,458.25 373.5,457 376,460.75 379.75,457 382.25,459.5 384.75,464 389,464 391,455.75 394,457 397.25,447 401,449 404.75,449.5 408.5,445.75 412.25,445 414.75,443.25 417.25,444.5 421,438.25 424.75,437.5 428.5,439.5 432.25,441.5 436,441.5 439.75,440 440,440 446.25,447 452.5,443.75 456.25,431.25 460,427.5 462.5,432.5 466.25,428.75 470,441.25 473.75,442.5 477.5,440 480,445 483.75,442.5 486.25,438.75 490,442.5 496.25,442.5 500,445 504.5,457.5 508.75,456.25 513.75,458.75 517.5,464.5 522.5,457.5 526.25,448.75 528.75,446.25 532.5,453.75 536.25,458.75 540,453.75 545,457.5 548.75,456.25 552.5,462.5 555.5,465 558,456.25 560,453.75 563.75,456.25 566.25,455 570,447.5 572.5,446.25 576.25,451.25 578.75,447.5 582.5,450 585,448.75 587.5,449.5 591.25,446.25 595.5,440.5 600,443.75 605,441.25 608.75,435 615,432.5 618.75,427.5 622,423.75 625,440 627.5,442 631.25,440.5 635,445 638.75,447.5 642.5,452.5 646.25,458.75 650,455 652.5,451.25 655,453.75 658.75,448 662.5,445.5 664,443.25 667,448.25 671,437.5 675.25,445.75 679,444.5 682.75,448.25 685.25,452 687.75,446.5 689,450 691.5,442 695.25,440.75 698.5,449 701.5,443.25 704.5,440 707.75,445 712.75,447 716.5,443.25 720.25,447 725.25,448.25 729,443.25 734,439 737.75,433.25 741.5,433.25 745.25,438.25 750.25,434.5 754,440.75 757.75,443.25 761.5,453.25 764,455.75 766.5,462 769,457 772.75,455.75 775.25,452 779,454 782.75,443.25 786.5,445.75 790.25,445 792.75,448.25 796,447 799,457 802.75,464 806.5,454.5 809,452.5 812.75,457 816,459.5 819,457.5 824,457 827.75,459.5 830.25,454 834,452.5 836.5,450.75 840.25,452.5 843.5,450.75"/>
<line x1="0.6" y1="429.5" x2="975.5" y2="429.5" stroke="#089981" stroke-width="1.5" stroke-dasharray="6.9 8.23"/>
<line x1="0.6" y1="471.2" x2="974.8" y2="471.2" stroke="#f23645" stroke-width="1.5" stroke-dasharray="6.9 8.23"/>
<rect x="975.5" y="0" width="48.5" height="496" fill="#fff"/>
<line x1="975.5" y1="416.6" x2="1024" y2="416.6" stroke="#e3e5ea" stroke-width="1"/>
<g font-family='"Liberation Sans", Arial, sans-serif' font-size="8.9" fill="#131722">
<text x="981.3" y="35.25">520.00</text>
<text x="981.3" y="65.47">445.00</text>
<text x="981.3" y="93.56">385.00</text>
<text x="981.3" y="114.85">345.00</text>
<text x="981.3" y="138.75">305.00</text>
<text x="981.3" y="166.03">265.00</text>
<text x="981.3" y="189.33">235.00</text>
<text x="981.3" y="215.83">205.00</text>
<text x="981.3" y="246.52">175.00</text>
<text x="981.3" y="270.07">155.00</text>
<text x="981.3" y="296.87">135.00</text>
<text x="981.3" y="321.34">119.00</text>
<text x="981.3" y="342.87">106.50</text>
<text x="981.3" y="366.06">94.50</text>
<text x="981.3" y="387.76">84.50</text>
<text x="981.3" y="409.61">75.50</text>
<text x="981.3" y="432.9">75.00</text>
<text x="981.3" y="474.8">25.00</text>
<text x="36.81" y="489.9" font-size="8.25" text-anchor="middle">Nov</text>
<text x="103.59" y="489.9" font-size="8.25" text-anchor="middle">Dec</text>
<text x="162.2" y="489.9" font-size="8.6" font-weight="bold" textLength="21" lengthAdjust="spacingAndGlyphs">2025</text>
<text x="241.6" y="489.9" font-size="8.25" text-anchor="middle">Feb</text>
<text x="303.93" y="489.9" font-size="8.25" text-anchor="middle">Mar</text>
<text x="372.94" y="489.9" font-size="8.25" text-anchor="middle">Apr</text>
<text x="439.72" y="489.9" font-size="8.25" text-anchor="middle">May</text>
<text x="508.72" y="489.9" font-size="8.25" text-anchor="middle">Jun</text>
<text x="575.5" y="489.9" font-size="8.25" text-anchor="middle">Jul</text>
<text x="644.51" y="489.9" font-size="8.25" text-anchor="middle">Aug</text>
<text x="713.51" y="489.9" font-size="8.25" text-anchor="middle">Sep</text>
<text x="780.29" y="489.9" font-size="8.25" text-anchor="middle">Oct</text>
<text x="849.3" y="489.9" font-size="8.25" text-anchor="middle">Nov</text>
<text x="916.08" y="489.9" font-size="8.25" text-anchor="middle">Dec</text>
</g>
<line x1="0" y1="2.5" x2="1024" y2="2.5" stroke="#eef0f3" stroke-width="1" shape-rendering="crispEdges"/>
<g font-family='"Liberation Sans", Arial, sans-serif' font-size="8.65">
<rect x="935.7" y="213.1" width="39.6" height="11.7" rx="1.5" fill="#089981"/>
<text x="938.8" y="222.2" fill="#fff" textLength="33.2" lengthAdjust="spacingAndGlyphs">SOLUSD</text>
<rect x="975.8" y="213.1" width="45.2" height="21.1" rx="1.5" fill="#089981"/>
<text x="982" y="222.3" fill="#fff">198.84</text>
<text x="982" y="231.3" fill="#fff" fill-opacity="0.75">11:59:15</text>
<rect x="975.8" y="234.5" width="37.3" height="11.3" rx="1" fill="#ff9800"/>
<text x="982" y="243.4" fill="#111">187.37</text>
<rect x="975.8" y="405" width="43.7" height="11.6" rx="1.2" fill="#2962ff"/>
<text x="982.3" y="414" fill="#fff">115.72<tspan dx="0.8">K</tspan></text>
<rect x="975.8" y="445" width="31.8" height="11.4" rx="1.2" fill="#7e57c2"/>
<text x="982" y="454" fill="#fff">49.76</text>
<rect x="975.8" y="456.9" width="31.8" height="11.4" rx="1.2" fill="#fdd835"/>
<text x="982" y="465.8" fill="#111">44.22</text>
<rect x="977.6" y="4.4" width="44.2" height="18.2" rx="3" fill="#fff" stroke="#eef0f3" stroke-width="1"/>
<text x="984" y="16.8" fill="#131722" textLength="17.2" lengthAdjust="spacingAndGlyphs">USD</text>
</g>
<g font-family='"Liberation Sans", Arial, sans-serif' font-size="8.6">
<text x="6.9" y="16" textLength="128.2" lengthAdjust="spacingAndGlyphs"><tspan fill="#131722" stroke="#131722" stroke-width="0.22">Solana / U.S. Dollar · 1D · Binance</tspan></text>
<text x="140.7" y="16"><tspan fill="#131722" stroke="#131722" stroke-width="0.22">O</tspan><tspan fill="#089981" stroke="#089981" stroke-width="0.08">194.26</tspan></text>
<text x="178" y="16"><tspan fill="#131722" stroke="#131722" stroke-width="0.22">H</tspan><tspan fill="#089981" stroke="#089981" stroke-width="0.08">199.39</tspan></text>
<text x="215.7" y="16"><tspan fill="#131722" stroke="#131722" stroke-width="0.22">L</tspan><tspan fill="#089981" stroke="#089981" stroke-width="0.08">192.91</tspan></text>
<text x="250" y="16"><tspan fill="#131722" stroke="#131722" stroke-width="0.22">C</tspan><tspan fill="#089981" stroke="#089981" stroke-width="0.08">198.84</tspan></text>
<text x="287.5" y="16" textLength="61" lengthAdjust="spacingAndGlyphs"><tspan fill="#089981" stroke="#089981" stroke-width="0.08">+4.58 (+2.36%)</tspan></text>
<text x="6.9" y="27.5" textLength="52.6" lengthAdjust="spacingAndGlyphs"><tspan fill="#131722" stroke="#131722" stroke-width="0.22">Vol · SOL (14)</tspan></text>
<text x="64.6" y="27.5"><tspan fill="#26a69a" stroke="#26a69a" stroke-width="0.08">36.15</tspan><tspan dx="1.5" fill="#26a69a" stroke="#26a69a" stroke-width="0.08">K</tspan></text>
<text x="97" y="27.5"><tspan fill="#2962ff" stroke="#2962ff" stroke-width="0.08">115.72</tspan><tspan dx="1.2" fill="#2962ff" stroke="#2962ff" stroke-width="0.08">K</tspan></text>
<text x="6.9" y="39.5"><tspan fill="#131722" stroke="#131722" stroke-width="0.22">EMA (200, close)</tspan></text>
<text x="78" y="39.5"><tspan fill="#ff9800" stroke="#ff9800" stroke-width="0.08">187.37</tspan></text>
<text x="6.9" y="431.3" textLength="54.3" lengthAdjust="spacingAndGlyphs"><tspan fill="#131722" stroke="#131722" stroke-width="0.22">RSI (14, close)</tspan></text>
<text x="67.8" y="431.3"><tspan fill="#7e57c2" stroke="#7e57c2" stroke-width="0.08">49.76</tspan></text>
<text x="94" y="431.3"><tspan fill="#fdd835" stroke="#fdd835" stroke-width="0.08">44.22</tspan></text>
</g>
</svg>
</body></html>
